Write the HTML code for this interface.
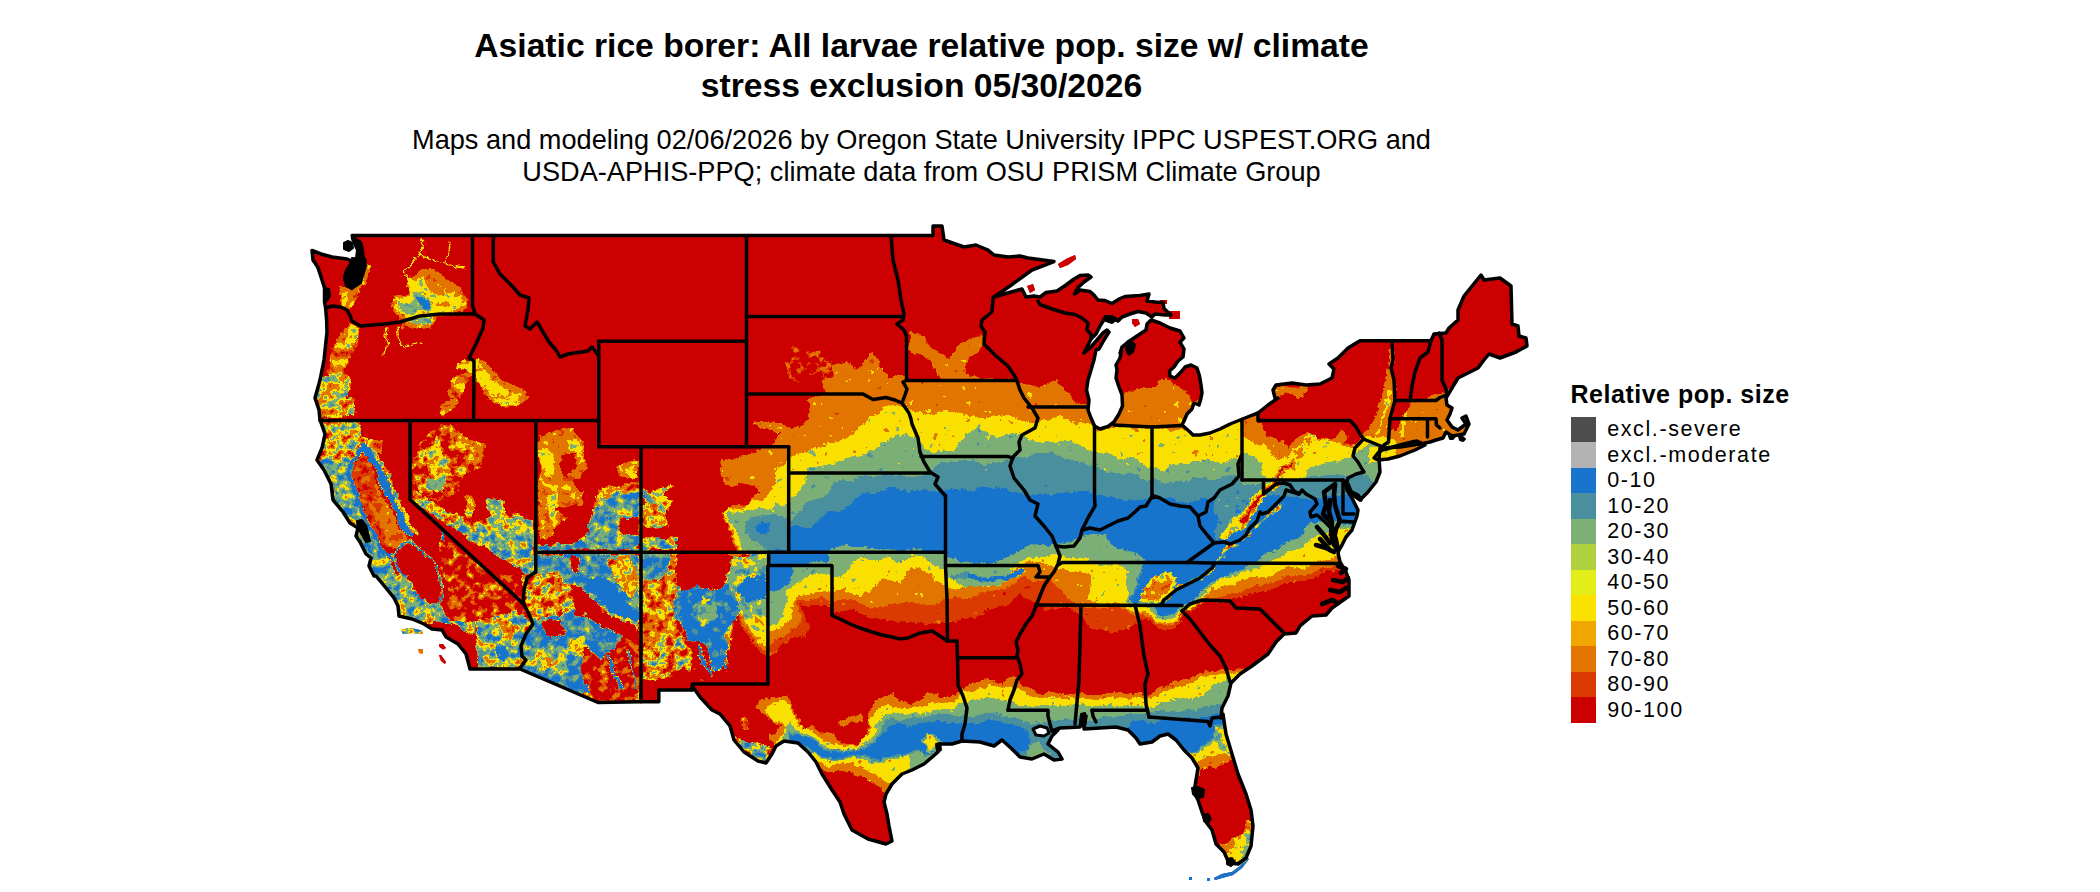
<!DOCTYPE html>
<html><head><meta charset="utf-8"><title>Asiatic rice borer</title>
<style>
html,body{margin:0;padding:0;background:#fff;}
body{width:2100px;height:892px;position:relative;overflow:hidden;font-family:"Liberation Sans",sans-serif;color:#000;}
.title{position:absolute;left:0;width:1843px;top:26px;text-align:center;font-weight:bold;font-size:33.65px;line-height:40px;}
.sub{position:absolute;left:0;width:1843px;top:123.5px;text-align:center;font-size:27.17px;line-height:32.6px;}
.lgt{position:absolute;left:1570.5px;top:379.7px;font-weight:bold;font-size:25px;line-height:28px;white-space:nowrap;letter-spacing:0.52px}
.sw{position:absolute;left:1571px;width:25px;height:25.7px;}
.lt{position:absolute;left:1607.2px;height:25.47px;line-height:25.47px;font-size:21.5px;white-space:nowrap;letter-spacing:1.6px}
</style></head><body>
<div class="title">Asiatic rice borer: All larvae relative pop. size w/ climate<br>stress exclusion 05/30/2026</div>
<div class="sub">Maps and modeling 02/06/2026 by Oregon State University IPPC USPEST.ORG and<br>USDA-APHIS-PPQ; climate data from OSU PRISM Climate Group</div>
<svg width="2100" height="892" viewBox="0 0 2100 892" style="position:absolute;left:0;top:0"><defs><clipPath id="land"><path d="M352.2 235.5L933 235.5L933 226L942 226L944 240L964 247L976 245L988 250L994 255L1008 257L1020 256L1028 258L1054 261.6L1032 270L1010 286L994 297L1004 294L1022 289L1026 297L1034 296L1040 297L1046 292.5L1057 291L1066 285L1074 279L1080 275.5L1088 275L1091 277L1084 282L1078 287.5L1074.5 294L1080 290L1090 291.5L1094 295L1098 300L1105 300.5L1112 303.5L1120 298.5L1125 296.5L1140 295.5L1149 294L1147 301L1155 302L1163 302.5L1164 308.5L1171 315L1165 315L1155 314L1152 317L1146 313L1138 311.5L1130 314L1122 317L1118 321L1114 318L1105 318L1100 326L1096 334L1091 339L1087 347L1084 353L1090 348L1097 340L1103 333L1107 330L1109 332L1104 340L1099 349L1096 350L1094 360L1091 370L1088 380L1086.5 390L1089 400L1088 410L1091 418L1094.5 426L1100 429L1108 426.5L1114 422L1119 414L1122.5 406L1122 395L1119 387L1116 378L1117 370L1116 365L1120 358L1121.5 350L1120 353L1122 347L1128 342L1134 338L1140 334L1146 330L1147 324L1151 320L1160 323L1170 328L1180 331L1184 338L1180 342L1184 349L1183 357L1178 361L1174 367L1169.5 371L1170 376L1175 378L1181 372L1185 367L1191 365L1197 368L1199.5 376L1201 385L1202 393L1200.5 400L1199 405L1194 403L1192 409L1187 414L1184 421L1182 425L1190 432L1193 435L1200 435L1210 433L1220 429L1230 424L1240 420L1250 416L1258 413L1268 405L1278 398L1275 398L1273 390L1276 385L1292 383L1306 385L1320 384L1332 378L1334 369L1329 364L1338 358L1348 348L1360 340.7L1431 340.7L1434 334L1446 333L1449 328L1458 320L1458 310L1464 296L1481 275L1484 280L1500 278L1511 286L1512 324L1518 326L1519 336L1526 338L1527 346L1516 352L1500 358L1489 354L1484 360L1478 368L1464 375L1458 378L1452 388L1446 398L1447 405L1452 408L1450 414L1447 420L1452 427L1458 430L1466 424L1462 418L1466 416L1469 424L1464 434L1452 436L1446 432L1443 438L1436 440L1430 442L1420 444L1400 447L1383 448L1380 448L1379 458L1380 472L1376 482L1368 492L1360 500L1352 494L1348 484L1345 481L1347 490L1352 498L1358 510L1357 516L1352 530L1346 537L1342 545L1339 550L1338 553L1340 562L1346 572L1349 580L1349 596L1332 608L1326 615L1312 616L1300 626L1296 633L1284 634L1276 642L1268 654L1252 666L1240 674L1231 683L1228 696L1222 708L1221 718L1223 714L1226 734L1232 754L1238 774L1246 794L1251 810L1253 826L1251 846L1246 858L1238 864L1229 863L1224 852L1216 844L1212 830L1206 822L1202 812L1198 800L1194 792L1196 780L1198 768L1192 758L1184 750L1176 740L1168 734L1160 736L1152 742L1140 744L1136 738L1128 730L1116 727L1100 728L1084 729L1086 716L1082 716L1080 727L1060 728L1052 731L1058 730L1052 736L1048 744L1058 752L1062 759L1054 760L1044 754L1032 759L1020 757L1012 749L1002 740L994 746L980 742L962 741L952 744L940 744L938 752L924 764L912 770L902 774L892 784L886 794L884 802L887 814L889 826L892 841L886 844L868 839L852 830L844 814L840 802L832 790L822 774L816 762L808 752L798 743L784 741L776 746L772 754L766 763L758 761L744 752L734 740L730 726L720 714L712 710L700 697L692.3 686L692.3 689.9L658.8 689.9L658.8 701.8L641 701.8L598 702.5L520 669L470 669L466 654L458 644L446 637L442 630L432 629L424 624L412 619L399 616L398 606L394 598L386 588L376 576L374 576L369 566L371 558L366 554L360 542L356 536L358 528L350 523L343 512L333 500L331 484L324 470L317 460L322 448L325 434L320 419.6L319 410L315 398L320 380L324 360L327 332L326.6 320L325.6 308L324.5 301.7L324.5 288L322 280L318 267.6L313 260L312 250.5L321 254L332 257L347 259L352 261L365 261L363 257L361 250L360 242L353 240Z"/><path d="M1382 450L1386 449L1400 445L1412 442L1417 441L1421 443L1425 445L1415 450L1400 456L1388 459L1378 460L1374 458L1378 453Z"/><path d="M1058 264L1066 259L1075 255L1076 259L1068 265L1060 268Z"/><path d="M1027 286L1033 284L1035 290L1030 293Z"/><path d="M1132 319L1138 319L1140 324L1135 327L1132 323Z"/><path d="M1160 300L1167 300L1167 304L1160 304Z"/><path d="M1169 311L1180 311L1180 319L1169 319Z"/><path d="M401 630L408 628L416 629L423 631L422 634L412 633L403 634Z"/><path d="M418.5 649L423 649.5L423 653.5L419 653Z"/><path d="M439 644L443 644L446 648L443 649.5L439.5 647Z"/><path d="M439 655L441 655L446 662L445 664L441 661Z"/><path d="M1214 878L1222 874L1232 872L1240 866L1247 858L1249 859L1242 868L1233 875L1222 878L1215 880Z"/><path d="M1189 877L1192 877L1192 880L1189 880Z"/><path d="M1207 878L1210 878L1210 881L1207 881Z"/></clipPath><filter id="f" x="296" y="216" width="1250" height="680" filterUnits="userSpaceOnUse" color-interpolation-filters="sRGB">
<feTurbulence type="fractalNoise" baseFrequency="0.05" numOctaves="2" seed="5" result="d1"/>
<feDisplacementMap in="SourceGraphic" in2="d1" scale="9" xChannelSelector="R" yChannelSelector="G" result="dd1"/>
<feTurbulence type="fractalNoise" baseFrequency="0.22" numOctaves="2" seed="8" result="d2"/>
<feDisplacementMap in="dd1" in2="d2" scale="5" xChannelSelector="R" yChannelSelector="G" result="dd"/>
<feGaussianBlur in="dd" stdDeviation="0.7" result="b"/>
<feTurbulence type="fractalNoise" baseFrequency="0.12" numOctaves="3" seed="11" result="t"/>
<feColorMatrix in="t" type="matrix" values="1 0 0 0 0  1 0 0 0 0  1 0 0 0 0  0 0 0 0 1" result="N"/>
<feColorMatrix in="b" type="matrix" values="0 1 0 0 0  0 1 0 0 0  0 1 0 0 0  0 0 0 0 1" result="A"/>
<feComposite in="A" in2="N" operator="arithmetic" k1="1" k2="-0.5" k3="0" k4="0.5" result="P"/>
<feColorMatrix in="b" type="matrix" values="1 0 0 0 0  1 0 0 0 0  1 0 0 0 0  0 0 0 0 1" result="L"/>
<feComposite in="L" in2="P" operator="arithmetic" k1="0" k2="1" k3="2" k4="-1" result="V"/>
<feComponentTransfer in="V"><feFuncR type="discrete" tableValues="0.800 0.800 0.800 0.800 0.800 0.800 0.800 0.800 0.800 0.800 0.800 0.800 0.800 0.800 0.800 0.859 0.859 0.859 0.890 0.890 0.890 0.890 0.890 0.980 0.980 0.980 0.980 0.980 0.490 0.490 0.490 0.490 0.490 0.290 0.290 0.290 0.290 0.094 0.094 0.094 0.094 0.094 0.094 0.094 0.094 0.094 0.094 0.094 0.094 0.094"/><feFuncG type="discrete" tableValues="0.000 0.000 0.000 0.000 0.000 0.000 0.000 0.000 0.000 0.000 0.000 0.000 0.000 0.000 0.000 0.231 0.231 0.231 0.455 0.455 0.455 0.455 0.455 0.882 0.882 0.882 0.882 0.882 0.690 0.690 0.690 0.690 0.690 0.561 0.561 0.561 0.561 0.455 0.455 0.455 0.455 0.455 0.455 0.455 0.455 0.455 0.455 0.455 0.455 0.455"/><feFuncB type="discrete" tableValues="0.000 0.000 0.000 0.000 0.000 0.000 0.000 0.000 0.000 0.000 0.000 0.000 0.000 0.000 0.000 0.000 0.000 0.000 0.000 0.000 0.000 0.000 0.000 0.000 0.000 0.000 0.000 0.000 0.459 0.459 0.459 0.459 0.459 0.620 0.620 0.620 0.620 0.804 0.804 0.804 0.804 0.804 0.804 0.804 0.804 0.804 0.804 0.804 0.804 0.804"/></feComponentTransfer>
</filter></defs><g clip-path="url(#land)"><rect x="290" y="210" width="1262" height="692" fill="#cc0000"/><path d="M771 446L774 441L776 436L786 430L800 426L808 420L810 406L806 400L816 397L826 393L822 381L810 374L802 373L812 371L830 365L838 362L854 367L855 372L862 367L863 359L871 351L877 359L884 370L890 378L900 376L908 375L909 334L925 336L930 346L940 352L948 358L952 348L966 338L980 336L984 342L980 350L970 358L966 372L980 378L1000 380L1016 382L1030 384L1040 387L1055 379L1070 394L1075 404L1090 406L1110 400L1123 394L1130 390L1140 388L1157 388L1158 381L1163 378.5L1172 380L1176 385L1184 390L1194 399L1210 400L1250 405L1259 418L1259 422L1263 429L1271 438L1284 442L1287 449L1297 436L1310 432L1321 438L1330 439L1339 435L1344 429L1349 434L1344 442L1353 444L1359 441L1364 435L1367 432L1371 424L1377 411L1381 396L1387 379L1388 350L1393 350L1395 380L1394 400L1391 418L1390 428L1400 428L1400 418L1410 401L1425 402L1432 396L1450 390L1480 400L1480 450L1480 568L1355 566L1343 569L1334 571L1320 576L1306 579L1288 584L1270 588L1258 592L1246 595L1232 600L1220 602L1206 602L1195 607L1187 613L1181 621L1169 628L1157 629L1149 622L1139 620L1131 626L1120 632L1106 632L1091 629L1083 615L1063 609L1046 612L1041 605L1034 601L1020 595L1010 603L993 610L977 617L960 620L947 622L927 627L920 622L906 621L891 622L877 619L863 616L849 612L834 612L830 605L820 604L809 606L797 605L806 612L810 625L806 634L791 639L777 648L769 654L767 656L760 650L750 630L739 612L734 600L726 585L726 574L729 559L737 549L733 540L729 531L726 520L720 513L729 510L734 504L746 506L753 497L760 491L757 486L740 483L729 486L723 480L721 469L723 459L737 457L749 454Z" fill="#e37400"/><path d="M769 645L777 640L791 630L800 624L803 615L795 607L797 600L809 599L820 598L831 602L843 599L854 602L869 608L883 609L891 605L911 602L927 607L947 600L967 597L987 593L1007 588L1020 578L1037 582L1049 578L1056 585L1063 595L1069 602L1083 606L1100 606L1120 608L1131 612L1140 613L1149 618L1155 624L1166 626L1178 620L1185 612L1193 604L1206 598L1220 598L1234 593L1254 587L1269 582L1286 577L1306 573L1320 570L1334 566L1355 562L1480 562L1480 568L1355 566L1343 569L1334 571L1320 576L1306 579L1288 584L1270 588L1258 592L1246 595L1232 600L1220 602L1206 602L1195 607L1187 613L1181 621L1169 628L1157 629L1149 622L1139 620L1131 626L1120 632L1106 632L1091 629L1083 615L1063 609L1046 612L1041 605L1034 601L1020 595L1010 603L993 610L977 617L960 620L947 622L927 627L920 622L906 621L891 622L877 619L863 616L849 612L834 612L830 605L820 604L809 606L797 605L806 612L810 625L806 634L791 639L777 648L769 654L767 650Z" fill="#db3b00"/><path d="M786 464L790 457L810 450L833 443L850 437L867 423L880 410L890 405L903 407L913 412L933 415L943 410L967 413L987 418L1000 412L1017 418L1033 423L1047 420L1060 415L1073 422L1087 423L1097 432L1117 428L1133 430L1150 428L1167 427L1183 428L1193 433L1215 428L1240 421L1244 435L1253 442L1259 446L1267 444L1273 452L1276 461L1287 455L1299 446L1310 441L1321 439L1333 442L1344 444L1353 445L1359 442L1367 436L1377 435L1381 438L1400 440L1480 444L1480 558L1355 552L1334 556L1320 560L1306 566L1286 569L1269 574L1254 578L1240 581L1226 586L1213 589L1203 596L1198 604L1187 610L1180 618L1165 624L1154 621L1150 615L1145 612L1132 610L1124 606L1110 604L1097 602L1089 598L1090 589L1089 578L1080 572L1063 569L1053 568L1040 563L1020 564L1000 582L983 585L963 587L947 587L933 580L920 566L909 571L900 582L891 579L880 581L871 588L863 595L851 594L843 589L831 592L812 592L800 594L793 600L790 610L792 620L780 628L769 632L762 640L752 625L742 610L738 598L732 585L732 570L736 558L740 549L735 540L731 531L727 520L722 513L731 507L744 509L751 503L763 500L773 491L774 480L777 469Z" fill="#fae100"/><path d="M769 625L780 622L786 610L786 592L791 588L800 582L806 576L817 574L831 574L840 578L849 571L854 562L863 555L877 561L890 558L897 564L906 559L920 556L933 563L947 570L963 588L983 588L1000 585L1020 561L1037 558L1053 554L1063 556L1083 559L1091 563L1106 564L1120 565L1129 572L1125 582L1127 592L1126 600L1132 606L1145 608L1152 611L1156 618L1165 620L1178 615L1184 608L1197 601L1213 585L1220 579L1234 576L1249 572L1263 564L1271 559L1286 555L1300 549L1311 541L1317 534L1340 530L1360 528L1400 548L1400 558L1355 552L1334 556L1320 560L1306 566L1286 569L1269 574L1254 578L1240 581L1226 586L1213 589L1203 596L1198 604L1187 610L1180 618L1165 624L1154 621L1150 615L1145 612L1132 610L1124 606L1110 604L1097 602L1089 598L1090 589L1089 578L1080 572L1063 569L1053 568L1040 563L1020 564L1000 582L983 585L963 587L947 587L933 580L920 566L909 571L900 582L891 579L880 581L871 588L863 595L851 594L843 589L831 592L812 592L800 594L793 600L790 610L792 620L780 628L769 632L765 632L765 625Z" fill="#e3ed17"/><path d="M790 497L799 493L804 480L806 474L809 467L834 464L850 457L867 452L880 447L893 437L907 433L917 438L923 450L933 452L953 450L963 437L973 430L990 437L1013 433L1023 437L1033 443L1050 443L1067 440L1083 447L1095 450L1107 453L1120 460L1133 457L1143 463L1152 468L1160 472L1173 467L1190 463L1207 460L1223 463L1237 458L1244 455L1253 458L1263 464L1262 474L1275 480L1290 480L1304 478L1310 469L1321 464L1333 461L1344 459L1353 455L1359 449L1367 445L1376 444L1385 446L1480 447L1480 548L1360 528L1340 530L1317 534L1311 541L1300 549L1286 555L1271 559L1263 564L1249 572L1234 576L1220 579L1213 585L1197 601L1184 608L1178 615L1165 620L1156 618L1152 611L1145 608L1132 606L1126 600L1127 592L1125 582L1129 572L1120 565L1106 564L1091 563L1083 559L1063 556L1053 554L1037 558L1020 561L1000 585L983 588L963 588L947 570L933 563L920 556L906 559L897 564L890 558L877 561L863 555L854 562L849 571L840 578L831 574L817 574L806 576L800 582L791 588L786 592L786 610L780 622L769 625L767 625L757 618L749 614L739 602L734 592L737 582L746 574L749 559L744 551L741 546L739 537L733 529L729 521L726 514L737 511L749 511L757 509L769 509L777 504L786 503Z" fill="#7db075"/><path d="M790 521L797 516L806 509L812 500L826 497L831 484L843 480L863 477L877 476L906 476L920 474L930 468L940 463L960 460L980 463L1000 462L1013 458L1027 455L1040 453L1057 455L1073 460L1087 463L1097 468L1110 473L1127 473L1140 477L1153 480L1167 483L1183 480L1200 477L1217 480L1233 473L1247 487L1260 483L1287 480L1307 478L1321 475L1339 474L1350 475L1359 474L1364 475L1367 478L1373 484L1376 490L1480 487L1480 522L1362 517L1345 522L1330 517L1310 520L1300 535L1286 541L1271 546L1260 556L1254 561L1240 568L1226 572L1211 579L1195 595L1181 603L1176 609L1165 613L1158 611L1154 604L1145 601L1134 599L1129 596L1131 589L1137 581L1143 569L1146 559L1143 553L1129 549L1111 543L1106 532L1093 530L1080 534L1067 537L1060 540L1050 543L1034 541L1020 548L1000 557L983 559L967 560L947 554L933 549L906 546L880 545L863 543L843 543L829 546L829 557L810 560L791 563L795 567L791 575L790 583L777 585L769 586L769 588L760 585L752 575L756 560L766 552L757 543L749 540L744 531L746 523L751 517L763 516L771 514L781 514Z" fill="#4a8f9e"/><path d="M790 531L794 526L806 526L820 520L826 514L846 510L849 504L863 494L877 491L891 487L906 490L920 490L933 490L947 492L967 490L983 487L1000 488L1017 493L1033 497L1050 493L1067 492L1080 490L1093 493L1107 497L1123 500L1140 500L1153 497L1167 500L1183 503L1200 500L1213 497L1227 500L1240 505L1255 500L1270 497L1290 495L1310 500L1330 498L1345 495L1358 500L1362 508L1480 508L1480 525L1362 520L1345 525L1330 520L1310 523L1300 538L1286 544L1271 549L1260 559L1254 564L1240 571L1226 575L1211 582L1195 598L1181 606L1176 612L1165 616L1158 614L1154 607L1145 604L1134 602L1129 599L1131 592L1137 584L1143 572L1146 562L1143 556L1129 552L1111 546L1106 535L1093 533L1080 537L1067 540L1060 543L1050 546L1034 544L1020 551L1000 560L983 562L967 563L947 557L933 552L906 549L880 548L863 546L843 546L829 549L829 560L810 563L791 566L795 570L791 578L790 586L777 588L769 589L768 589L768 566L770 554L775 548L788 548Z" fill="#1874cd"/><path d="M757 524L764 521L771 523L770 530L762 533L757 530Z" fill="#1874cd"/><path d="M1274 387L1310 386L1310 392L1299 398L1287 394L1277 399L1273 395Z" fill="#e37400"/><path d="M1388 392L1383 418L1379 436" fill="none" stroke="#fae100" stroke-width="2.5"/><path d="M1406 413L1404 425L1403 437" fill="none" stroke="#fae100" stroke-width="3"/><path d="M1395 401L1410 401L1404 412L1399 418L1391 418Z" fill="#cc0000"/><path d="M1391 421L1399 421L1399 430L1391 431Z" fill="#cc0000"/><path d="M1216 498L1232 492L1250 486L1262 484L1258 500L1250 512L1240 524L1228 536L1216 540L1212 528L1220 518L1214 508Z" fill="#4a8f9e"/><path d="M1312 438L1299 455L1284 469L1273 484L1264 490L1257 501L1249 513L1241 521L1232 530L1226 536" fill="none" stroke="#fae100" stroke-width="10"/><path d="M1312 438L1299 455L1284 469L1273 484L1264 490L1257 501L1249 513L1241 521" fill="none" stroke="#e37400" stroke-width="6"/><path d="M1273 484L1264 490L1257 501L1249 513L1241 521" fill="none" stroke="#cc0000" stroke-width="2.6"/><path d="M1290 463L1282 471L1276 480" fill="none" stroke="#cc0000" stroke-width="2"/><path d="M1165 600L1176 590L1188 584L1200 578L1212 568L1222 556L1235 545" fill="none" stroke="#fae100" stroke-width="3.5"/><path d="M1240 540L1255 528L1270 515L1283 503" fill="none" stroke="#fae100" stroke-width="2.5"/><path d="M1140 592L1149 582L1157 576L1169 572L1177 578L1174 590L1165 602L1150 606L1140 603Z" fill="#fae100"/><path d="M1146 592L1155 582L1166 577L1172 581L1168 592L1160 600L1148 602Z" fill="#e37400"/><path d="M965 577L985 579L1005 577L1022 572" fill="none" stroke="#1874cd" stroke-width="5"/><path d="M955 575L965 577" fill="none" stroke="#4a8f9e" stroke-width="5"/><path d="M756 706L761 699L774 697L784 696L791 703L793 711L799 719L803 727L813 726L821 731L833 733L837 740L846 743L856 744L866 738L870 726L868 716L874 703L880 697L891 694L900 701L911 704L920 700L929 693L940 697L949 697L960 690L966 687L972 682L988 680L1000 682L1008 676L1016 678L1024 684L1032 690L1040 694L1056 694L1072 692L1080 691L1096 694L1112 694L1128 693L1140 692L1150 694L1160 688L1170 684L1180 680L1190 676L1200 672L1210 669L1220 670L1245 668L1250 760L1230 762L1220 764L1210 766L1202 770L1198 776L1188 782L1150 800L950 800L900 796L886 792L879 786L869 780L857 774L849 771L840 769L831 773L823 770L815 772L803 760L795 748L783 746L775 750L769 737L777 731L780 724L773 719L764 714Z" fill="#e37400"/><path d="M837 723L850 716L862 714L864 722L850 722L840 727Z" fill="#e37400"/><path d="M766 709L776 701L784 701L789 709L794 716L800 724L809 729L817 736L826 740L834 744L846 746L857 744L867 737L871 727L869 720L877 711L886 707L896 707L907 710L920 707L931 703L943 703L957 700L960 692L976 688L992 686L1008 685L1020 688L1032 696L1048 699L1064 698L1080 697L1096 699L1112 699L1128 698L1140 697L1150 698L1160 694L1170 690L1180 688L1190 684L1198 678L1208 674L1220 674L1245 672L1250 755L1228 757L1222 756L1214 755L1206 757L1200 762L1194 764L1186 772L1150 795L950 795L900 788L890 783L883 779L871 771L863 767L851 764L840 763L829 766L820 763L812 764L800 752L788 748L778 748L776 741L780 737L784 731L783 724L777 720L769 716Z" fill="#fae100"/><path d="M786 724L791 721L797 727L806 733L814 739L823 744L834 749L846 749L857 747L869 741L876 731L874 724L884 717L894 714L906 716L920 713L934 710L949 709L960 704L972 700L988 698L1004 700L1016 704L1032 707L1048 708L1064 706L1080 705L1096 707L1112 706L1128 706L1140 706L1150 706L1160 704L1172 700L1184 698L1196 700L1206 692L1216 684L1226 682L1245 680L1250 740L1222 730L1220 726L1219 734L1216 742L1206 748L1198 751L1188 754L1180 760L1150 790L950 790L912 776L903 774L906 769L911 760L909 754L900 757L891 760L886 763L874 763L866 760L854 759L831 760L821 759L814 751L806 756L795 746L785 746L784 738L786 731Z" fill="#7db075"/><path d="M790 731L800 732L809 738L820 745L831 749L846 750L860 748L871 743L879 734L880 724L891 719L906 720L920 717L934 714L949 714L960 716L972 716L988 714L1000 714L1012 716L1024 720L1032 724L1045 722L1060 720L1080 718L1100 718L1120 716L1135 714L1150 712L1164 710L1180 712L1192 710L1204 706L1216 704L1245 702L1250 725L1217 724L1216 732L1212 742L1200 748L1192 754L1180 750L1172 760L1150 785L1060 775L1040 740L1030 745L1020 765L950 785L940 752L925 754L917 750L909 753L900 755L889 758L880 762L866 757L851 759L837 760L823 757L811 752L803 748L795 744L790 738Z" fill="#4a8f9e"/><path d="M791 734L800 734L809 740L820 747L831 751L846 752L860 750L871 746L880 737L886 729L897 724L911 726L923 723L937 720L951 723L963 724L976 724L992 722L1008 724L1020 728L1028 732L1032 738L1028 746L1020 752L1015 765L950 780L940 752L925 752L917 748L909 751L900 753L889 756L880 760L866 755L851 757L837 758L823 755L811 750L803 746L797 742L791 738Z" fill="#1874cd"/><path d="M1128 724L1140 720L1152 722L1164 720L1180 719L1192 718L1206 716L1220 714L1245 712L1250 722L1217 722L1216 730L1212 740L1200 746L1192 752L1180 748L1170 755L1150 770L1130 750L1126 735Z" fill="#1874cd"/><path d="M921 740L926 735L934 735L940 740L942 748L934 752L925 750Z" fill="#7db075"/><path d="M923 742L927 737L933 737L936 742L934 748L927 749Z" fill="#e3ed17"/><path d="M1216 846L1228 842L1236 836L1242 830L1247 820L1260 820L1260 875L1215 875Z" fill="#e37400"/><path d="M1226 858L1234 848L1240 840L1246 828L1260 826L1260 875L1226 875Z" fill="#fae100"/><path d="M1240 862L1246 846L1250 832L1260 830L1260 870Z" fill="#7db075"/><path d="M420 270L440 274L458 286L468 300L466 310L440 314L428 328L412 330L400 328L400 316L392 306L396 296L408 294L408 280Z" fill="#e37400"/><path d="M409 280L424 278L428 288L440 296L460 296L464 304L452 310L440 311L428 320L412 324L404 322L406 314L396 308L394 300L404 296L410 288Z" fill="#fae100"/><path d="M411 291L424 292L432 304L428 312L418 310L408 314L400 308L398 302L408 304L412 300Z" fill="#7db075"/><path d="M414 296L424 296L430 306L426 310L420 306Z" fill="#1874cd"/><path d="M408 320L428 318L430 322L412 326Z" fill="#7db075"/><path d="M422 238L420 254L412 260L404 274L412 280" fill="none" stroke="#fae100" stroke-width="1.6"/><path d="M420 254L428 260L440 264L452 266L466 268" fill="none" stroke="#fae100" stroke-width="1.6"/><path d="M450 242L447 264" fill="none" stroke="#fae100" stroke-width="1.6"/><path d="M388 328L386 344L383 356" fill="none" stroke="#fae100" stroke-width="1.6"/><path d="M398 328L400 344L412 346L422 344" fill="none" stroke="#fae100" stroke-width="1.6"/><path d="M366 264L370 272L364 286L354 300L350 308L340 296L344 288L356 280Z" fill="#e37400"/><path d="M348 324L360 328L358 340L350 360L344 376L332 380L326 372L334 348L340 332Z" fill="#e37400"/><path d="M348 326L359 329L356 338L348 348L344 340Z" fill="#fae100"/><path d="M318 376L346 372L352 386L346 398L316 398Z" fill="#fae100"/><path d="M474 358L484 360L500 378L524 392L526 398L488 398L474 380Z" fill="#e37400"/><path d="M474 360L480 364L492 380L508 390L520 396L516 398L492 396L480 386L474 376Z" fill="#fae100"/><path d="M460 360L474 360L474 376L468 374L458 370Z" fill="#fae100"/><path d="M452 376L472 374L460 398L448 398Z" fill="#e37400"/><path d="M488 398L528 398L520 406L500 407Z" fill="#e37400"/><path d="M492 398L520 398L512 403L500 404Z" fill="#fae100"/><path d="M315 398L356 398L354 416L320 418Z" fill="#fae100"/><path d="M440 404L456 398L460 402L444 416L438 414Z" fill="#e37400"/><path d="M320 420L360 420L360 438L380 442L380 450L366 448L356 454L352 466L324 464L318 454L324 438Z" fill="#fae100"/><path d="M368 440L382 440L382 454L368 454Z" fill="#e37400"/><path d="M317 460L324 470L331 484L333 500L343 512L350 523L360 542L366 554L374 576L386 588L394 598L399 616L425 625L420 610L410 598L400 580L390 562L380 545L370 528L362 510L356 495L352 478L350 464Z" fill="#7db075"/><path d="M358 450L364 444L371 449L370 457L360 458Z" fill="#1874cd"/><path d="M372 450L380 462L386 476L393 490L400 505L408 520L416 535" fill="none" stroke="#fae100" stroke-width="3.5"/><path d="M367 450L374 462L380 476L387 490L394 505L402 520L410 535" fill="none" stroke="#1874cd" stroke-width="6.5"/><path d="M360 452L352 464L352 480L357 496L362 512L368 527L376 540L386 552L392 560" fill="none" stroke="#1874cd" stroke-width="3.5"/><path d="M363 454L370 462L374 475L381 489L387 504L393 518L401 532L410 543L401 550L393 548L380 541L370 529L364 515L359 495L354 479L354 462Z" fill="#db3b00"/><path d="M366 500L385 498L393 514L402 529L410 543L401 550L393 547L384 536L373 517Z" fill="#e37400"/><path d="M399 547L410 543L421 549L433 563L439 580L440 597L436 607L427 609L416 600L407 586L400 569L394 554L399 547" fill="none" stroke="#7db075" stroke-width="5"/><path d="M399 547L410 543L421 549L433 563L439 580L440 597L436 607L427 609L416 600L407 586L400 569L394 554L399 547" fill="none" stroke="#1874cd" stroke-width="2.6"/><path d="M399 547L410 543L421 549L433 563L439 580L440 597L436 607L427 609L416 600L407 586L400 569L394 554Z" fill="#cc0000"/><path d="M440 534L443 542L446 552L450 566" fill="none" stroke="#1874cd" stroke-width="2.5"/><path d="M412 456L428 434L440 424L456 428L472 444L486 450L480 466L464 474L460 490L440 502L420 494L412 482Z" fill="#db3b00"/><path d="M424 450L438 436L444 458L452 474L440 482L428 470Z" fill="#fae100"/><path d="M428 478L446 477L448 486L438 492L426 488Z" fill="#7db075"/><path d="M452 430L486 446L480 464L460 458Z" fill="#e37400"/><path d="M412 490L432 501L450 512L477 521L505 515L534 526L536 576L528 576L410 500Z" fill="#fae100"/><path d="M425 505L450 520L477 530L505 526L534 536L536 576L528 576L418 506Z" fill="#7db075"/><path d="M464 496L473 496L473 518L466 518Z" fill="#e37400"/><path d="M486 501L505 500L502 530L490 530Z" fill="#7db075"/><path d="M512 512L534 520L534 540L515 535Z" fill="#fae100"/><path d="M538.6 436.4L554.3 430.7L574.3 428.6L581.4 440.7L582.9 456.4L587.1 467.9L581.4 476.4L574.3 482.1L581.4 490.7L580 503.6L572.9 506.4L561.4 510.7L557.1 523.6L554.3 535L540 537.9L538.6 515Z" fill="#e37400"/><path d="M561.4 456.4L574.3 455L577.1 469.3L568.6 479.3L561.4 472.1Z" fill="#cc0000"/><path d="M538.6 450.7L545.7 447.1L552.9 450.7L554.3 462.1L552.9 472.1L548.6 477.9L542.9 475L540 465Z" fill="#fae100"/><path d="M569.3 443.6L577.1 439.3L581.4 447.9L582.1 457.9L575.7 453.6L570 450.7Z" fill="#fae100"/><path d="M560 491.4L562.1 493.6L554.3 506.4L548.6 515L547.1 509.3L552.9 497.9Z" fill="#fae100"/><path d="M542.9 520.7L554.3 520.7L554.3 529.3L542.9 529.3Z" fill="#fae100"/><path d="M617.1 466.4L624.3 462.1L638.6 459.3L639.3 477.9L630 480.7L622.9 477.9L618.6 472.1Z" fill="#e37400"/><path d="M624.3 469.3L632.9 465L638.6 467.9L638.6 475L628.6 476.4Z" fill="#fae100"/><path d="M595.7 490.7L610 483.6L618.6 486.4L640 482.1L640 542L587.1 542L592.9 515Z" fill="#e37400"/><path d="M604.3 495L618.6 486.4L625.7 495L639.3 486.4L639.3 542L591.4 542L595.7 515Z" fill="#fae100"/><path d="M610 496.4L618.6 490.7L625.7 499.3L638.6 490.7L639.3 506.4L631.4 515L625.7 529.3L618.6 540.7L597.1 540.7L595.7 523.6L597.1 509.3L605.7 502.1Z" fill="#4a8f9e"/><path d="M641.4 486.4L650 490.7L658.6 486.4L671.4 483.6L662.9 495L671.4 502.1L665.7 513.6L654.3 506.4L641.4 497.9Z" fill="#fae100"/><path d="M641.4 487.9L648.6 492.1L655.7 499.3L658.6 506.4L651.4 503.6L641.4 495Z" fill="#4a8f9e"/><path d="M641.4 503.6L651.4 506.4L654.3 523.6L641.4 526.4Z" fill="#fae100"/><path d="M538.6 490L582.9 490L582.9 507.1L568.6 518.6L557.1 527.1L554.3 537.1L538.6 540Z" fill="#e37400"/><path d="M545.7 498.6L560 492.9L555.7 510L548.6 518.6Z" fill="#fae100"/><path d="M591.4 518.6L600 498.6L614.3 495.7L637.1 492.9L638.6 550L537.1 550L537.1 544.3L571.4 544.3L588.6 532.9Z" fill="#4a8f9e"/><path d="M554.3 507.1L590 504.3L591.4 521.4L585.7 537.1L557.1 542.9L555.7 527.1L568.6 518.6Z" fill="#cc0000"/><path d="M620 518.6L638.6 515.7L638.6 537.1L622.9 534.3Z" fill="#cc0000"/><path d="M537.1 553.6L640 553.6L640 617L528.6 617L524.3 598.6L522.9 578.6L534.3 575.7Z" fill="#7db075"/><path d="M568.6 557.1L578.6 555.7L584.3 570L577.1 575.7L570 567.1Z" fill="#cc0000"/><path d="M571.4 590L585.7 588.6L591.4 604.3L584.3 617L575.7 617Z" fill="#cc0000"/><path d="M611.4 557.1L622.9 564.3L628.6 581.4L622.9 590L614.3 578.6L605.7 564.3Z" fill="#e37400"/><path d="M590 575.7L602.9 581.4L617.1 598.6L628.6 612.9L622.9 617L605.7 617L597.1 601.4L588.6 587.1Z" fill="#1874cd"/><path d="M374.3 575L407.1 575L420 596.4L440 605L448.6 622.1L474.3 622.1L474.3 635L440 622.1L421.4 622.1L397.1 617.9L394.3 600.7Z" fill="#7db075"/><path d="M448.6 575L521.4 575L521.4 600.7L531.4 622.1L517.1 635L474.3 622.1L451.4 622.1Z" fill="#cc0000"/><path d="M440 540L455 545L480 565L500 580L520 600L450 600L441 575Z" fill="#cc0000"/><path d="M445.7 600.7L462.9 597.9L468.6 612.1L451.4 616.4L442.9 610.7Z" fill="#db3b00"/><path d="M474.3 622.1L517.1 610.7L531.4 622.1L524.3 639.3L521.4 655L525.7 660.7L517.1 666.4L474.3 669.3L472.9 655L477.1 639.3Z" fill="#7db075"/><path d="M497.1 647.9L508.6 646.4L510.7 655L502.9 660.7L495.7 656.4Z" fill="#1874cd"/><path d="M495.7 616.4L511.4 622.1L517.1 636.4L508.6 640.7L497.1 626.4Z" fill="#e37400"/><path d="M421.4 622.1L440 622.1L460 629.3L474.3 637.9L478.6 655L474.3 669.3L468.6 669.3L460 646.4L445.7 637.9L428.6 629.3Z" fill="#cc0000"/><path d="M524.3 607.9L545.7 603.6L574.3 615L602.9 635L610 660.7L602.9 689.3L582.9 692.1L571.4 702L518.6 667.9L525.7 660.7L521.4 655L524.3 639.3L533.6 623.6Z" fill="#4a8f9e"/><path d="M544.3 617.9L560 616.4L564.3 629.3L557.1 636.4L544.3 633.6Z" fill="#cc0000"/><path d="M568.6 640.7L582.9 639.3L585.7 652.1L572.9 656.4L567.1 649.3Z" fill="#e37400"/><path d="M540 659.3L551.4 659.3L551.4 669.3L541.4 669.3Z" fill="#e37400"/><path d="M522.9 575L574.3 575L574.3 610.7L545.7 603.6L524.3 607.9Z" fill="#fae100"/><path d="M538.6 575L640 575L640 583.6L588.6 583.6L571.4 589.3L545.7 583.6Z" fill="#e37400"/><path d="M577.1 586.4L602.9 576.4L640 583.6L640 632.1L624.3 622.1L602.9 612.1L582.9 600.7Z" fill="#e37400"/><path d="M584.3 585L602.9 578.6L621.4 587.9L640 603.6L640 625L624.3 617.1L607.1 607.1L590 596.4Z" fill="#fae100"/><path d="M588.6 583.6L602.9 580L618.6 589.3L632.9 600.7L640 607.1L640 620.7L624.3 613.6L610 605L594.3 595Z" fill="#7db075"/><path d="M591.4 584.3L602.9 581.4L617.1 590L631.4 601.4L639.3 608.6L639.3 617.1L624.3 611.4L610 602.9L595.7 593.6Z" fill="#1874cd"/><path d="M571.4 592.1L582.9 589.3L602.9 603.6L624.3 617.9L639.3 632.1L639.3 649.3L624.3 642.1L602.9 625L582.9 610.7L574.3 600.7Z" fill="#cc0000"/><path d="M582.9 643.6L602.9 635L640 649.3L640 702L571.4 702L582.9 692.1L602.9 689.3L610 660.7Z" fill="#db3b00"/><path d="M614.3 649.3L617.1 660.7L625.7 675L631.4 689.3" fill="none" stroke="#1874cd" stroke-width="3"/><path d="M641.4 553.6L677.1 553.6L677.1 580.7L674.3 609.3L681.4 630.7L677.1 672L641.4 672Z" fill="#e37400"/><path d="M641.4 553.6L667.1 553.6L662.9 573.6L648.6 582.1L641.4 580.7Z" fill="#7db075"/><path d="M677.1 553.6L728.6 553.6L727.1 573.6L720 586.4L708.6 587.9L700 580.7L688.6 587.9L680 580.7Z" fill="#cc0000"/><path d="M677.1 585L688.6 587.9L700 582.1L708.6 589.3L720 587.9L734.3 592.1L737.1 609.3L731.4 630.7L725.7 645L722.9 672L705.7 672L700 645L688.6 636.4L680 625L674.3 605Z" fill="#1874cd"/><path d="M697.1 602.1L711.4 599.3L720 607.9L720 622.1L708.6 626.4L698.6 619.3Z" fill="#7db075"/><path d="M700 592.1L711.4 592.1L718.6 602.1L708.6 605L700 599.3Z" fill="#fae100"/><path d="M691.4 645L705.7 643.6L708.6 672L691.4 672Z" fill="#cc0000"/><path d="M677.1 636.4L687.1 639.3L688.6 672L677.1 672Z" fill="#cc0000"/><path d="M728.6 553.6L767.1 553.6L767.1 613.6L748.6 613.6L738.6 602.1L734.3 592.1L725.7 576.4Z" fill="#fae100"/><path d="M748.6 573.6L766.4 573.6L766.4 587.9L757.1 589.3L748.6 583.6Z" fill="#1874cd"/><path d="M737.1 553.6L748.6 553.6L748.6 570.7L738.6 573.6Z" fill="#fae100"/><path d="M737.1 612.1L748.6 613.6L767.1 625L767.1 643.6L757.1 645L745.7 630.7L737.1 622.1Z" fill="#fae100"/><path d="M742.9 630.7L757.1 645L767.1 643.6L767.1 655L761.4 657.9L748.6 645L740 633.6Z" fill="#e37400"/><path d="M740 633.6L748.6 645L761.4 657.9L767.1 655L767.1 660.7L760 662.1L745.7 647.9L738.6 636.4Z" fill="#db3b00"/><path d="M738.6 613.6L745.7 647.9L760 662.1L767.1 660.7L767.1 672L728.6 672L728.6 636.4Z" fill="#cc0000"/><path d="M725.7 630.7L734.3 625L738.6 636.4L732.9 672L725.7 672Z" fill="#fae100"/><path d="M641.4 502.9L667.1 502.9L668.6 525.7L648.6 528.6L641.4 525.7Z" fill="#fae100"/><path d="M641.4 537.1L677.1 538.6L677.1 550.7L641.4 550.7Z" fill="#7db075"/><path d="M728.6 550.7L748.6 550.7L748.6 567L728.6 567Z" fill="#e37400"/><path d="M732.9 737.1L747.1 740L761.4 745.7L771.4 748.6L768.6 760L761.4 762.9L747.1 752.9L735.7 745.7Z" fill="#fae100"/><path d="M741.4 717.1L748.6 715.7L750 727.1L742.9 728.6Z" fill="#e37400"/><path d="M1395 440L1430 438L1430 452L1395 460Z" fill="#e37400"/><path d="M1370 447L1398 446L1396 462L1370 462Z" fill="#fae100"/><path d="M399 626L425 626L425 636L399 636Z" fill="#7db075"/><path d="M417 648L424 648L424 655L417 655Z" fill="#e37400"/><path d="M1185 855L1252 855L1252 884L1185 884Z" fill="#1874cd"/><path d="M1216 846L1228 842L1236 836L1242 830L1247 820L1260 820L1250 850L1240 864L1225 866L1215 860Z" fill="#e37400"/><path d="M1226 858L1234 848L1240 840L1246 828L1260 826L1252 850L1242 864L1230 866Z" fill="#fae100"/><path d="M1240 862L1246 846L1250 832L1260 830L1252 852L1244 864Z" fill="#7db075"/><path d="M909 350L920 353L930 363L938 375L940 381L907 381Z" fill="#cc0000"/><path d="M340 287L352 290L358 296L354 306L346 309L340 300Z" fill="#e37400"/><path d="M363 264L372 264L370 276L364 286L360 283Z" fill="#e37400"/><path d="M536 553L600 553L640 553L640 566L600 572L560 575L536 572Z" fill="#fae100"/><path d="M750 423L765 421L785 424L790 432L775 432L760 428Z" fill="#e37400"/><path d="M786 348L830 352L832 378L800 385L786 378Z" fill="#cc0000"/><path d="M641 553L662 553L664 570L655 580L641 578Z" fill="#4a8f9e"/><path d="M536.5 554L638.7 554L638.7 620.3L622.6 616.7L595.7 604.2L574.2 586.2L559.8 580.9L536.5 573.7Z" fill="#4a8f9e"/><path d="M524 575.5L559.8 571.9L565.2 598.8L559.8 623.9L532.9 625.7L525.8 604.2Z" fill="#e37400"/><path d="M604.7 557.6L631.6 555.8L638.7 580.9L633.3 598.8L622.6 589.8L611.8 577.3Z" fill="#e37400"/><path d="M608.2 562.9L622.6 561.1L629.8 580.9L622.6 584.4L613.6 575.5Z" fill="#fae100"/><path d="M568.8 555.8L579.6 557.6L577.8 575.5L570.6 571.9Z" fill="#cc0000"/><path d="M574.2 585.3L595.7 605.1L622.6 619.4L638.7 623.9" fill="none" stroke="#fae100" stroke-width="4"/><path d="M586.7 579.1L599.3 575.5L615.4 589.8L629.8 604.2L638.7 613.1L638.7 622.1L622.6 616.7L604.7 604.2L590.3 591.6Z" fill="#1874cd"/><path d="M570.6 585.3L579.6 587.1L592.1 599.7L608.2 614L624.4 623L638.7 626.6L638.7 645.4L629.8 641.8L622.6 631.1L604.7 623.9L590.3 616.7L577.8 604.2L570.6 595.2Z" fill="#cc0000"/><path d="M532.9 620.3L568.8 613.1L590.3 620.3L608.2 629.3L622.6 638.2L615.4 652.6L601.1 659.8L597.5 674.1L583.1 681.3L574.2 688.4L520.4 668.7L525.8 652.6L522.2 638.2Z" fill="#1874cd"/><path d="M524 645.4L568.8 645.4L568.8 670.5L550.9 674.1L524 666.9Z" fill="#7db075"/><path d="M543.7 622.1L559.8 620.3L563.4 632.9L550.9 638.2L541.9 631.1Z" fill="#cc0000"/><path d="M570.6 638.2L583.1 636.4L588.5 645.4L583.1 654.4L572.4 654.4L567 647.2Z" fill="#fae100"/><path d="M574.2 642.7L581.3 641.8L584 646.3L580.4 650.8L575.1 649.9Z" fill="#e37400"/><path d="M540.1 658L550.9 657.1L551.8 666.9L541.9 668.7Z" fill="#e37400"/><path d="M583.1 645.4L601.1 659.8L622.6 638.2L638.7 645.4L638.7 699.2L595.7 699.2L583.1 684.9Z" fill="#cc0000"/><path d="M608.2 656.2L615.4 674.1L622.6 688.4" fill="none" stroke="#1874cd" stroke-width="2.5"/><path d="M626.2 652.6L631.6 670.5L635.1 688.4" fill="none" stroke="#1874cd" stroke-width="2.2"/><path d="M643.2 554L667.4 554L669.2 571.9L658.4 580.9L643.2 579.1Z" fill="#4a8f9e"/><path d="M643.2 579.1L658.4 580.9L669.2 571.9L676.4 589.8L672.8 616.7L676.4 634.7L667.4 645.4L643.2 645.4Z" fill="#e37400"/><path d="M676.4 554L730.2 554L728.4 580.9L712.2 589.8L694.3 586.2L680 589.8Z" fill="#cc0000"/><path d="M739.1 554L753.5 554L751.7 566.5L740.9 564.7Z" fill="#cc0000"/><path d="M730.2 555.8L766 555.8L766 598.8L739.1 604.2L728.4 582.7Z" fill="#7db075"/><path d="M744.5 577.3L766 575.5L766 598.8L748.1 602.4L737.3 591.6Z" fill="#1874cd"/><path d="M676.4 589.8L694.3 586.2L712.2 591.6L728.4 582.7L739.1 604.2L735.5 620.3L724.8 634.7L726.6 652.6L721.2 670.5L710.4 670.5L705.1 645.4L687.1 638.2L676.4 620.3L672.8 604.2Z" fill="#1874cd"/><path d="M697.9 604.2L715.8 604.2L717.6 620.3L703.3 625.7L696.1 616.7Z" fill="#7db075"/><path d="M701.5 595.2L712.2 598.8L706.9 606Z" fill="#fae100"/><path d="M643.2 645.4L667.4 645.4L676.4 634.7L687.1 638.2L694.3 652.6L690.7 670.5L676.4 670.5L658.4 681.3L643.2 681.3Z" fill="#e37400"/><path d="M687.1 638.2L705.1 645.4L710.4 670.5L721.2 670.5L726.6 681.3L658.4 681.3L676.4 670.5L690.7 670.5L694.3 652.6Z" fill="#cc0000"/><path d="M697.9 645.4L701.5 661.6L708.7 674.1" fill="none" stroke="#1874cd" stroke-width="2.5"/><path d="M717.6 638.2L719.4 656.2L730.2 677.7" fill="none" stroke="#1874cd" stroke-width="2.5"/><path d="M739.1 616.7L766 614.9L766 645.4L753.5 641.8L740.9 629.3Z" fill="#fae100"/><path d="M735.5 604.2L766 598.8L766 615.8L739.1 617.6Z" fill="#7db075"/><path d="M739.1 615.8L753.5 642.7L766 653.5L766 681.3L726.6 681.3L728.4 645.4Z" fill="#cc0000"/><path d="M740 615.8L754.4 641.8L766.9 653.5" fill="none" stroke="#e37400" stroke-width="5"/><path d="M738.8 616.7L752.6 643.3L765.7 655.3" fill="none" stroke="#db3b00" stroke-width="3"/><path d="M537 547L566 548L593 544L620 548L640 549" fill="none" stroke="#1874cd" stroke-width="4"/><path d="M1216 724L1226 724L1233 754L1222 756L1215 740Z" fill="#7db075"/><path d="M1220 726L1227 726L1233 752L1226 753L1220 740Z" fill="#fae100"/></g><g clip-path="url(#land)"><g filter="url(#f)"><rect x="290" y="210" width="1262" height="692" fill="rgb(51,20,0)"/><path d="M771 446L774 441L776 436L786 430L800 426L808 420L810 406L806 400L816 397L826 393L822 381L810 374L802 373L812 371L830 365L838 362L854 367L855 372L862 367L863 359L871 351L877 359L884 370L890 378L900 376L908 375L909 334L925 336L930 346L940 352L948 358L952 348L966 338L980 336L984 342L980 350L970 358L966 372L980 378L1000 380L1016 382L1030 384L1040 387L1055 379L1070 394L1075 404L1090 406L1110 400L1123 394L1130 390L1140 388L1157 388L1158 381L1163 378.5L1172 380L1176 385L1184 390L1194 399L1210 400L1250 405L1259 418L1259 422L1263 429L1271 438L1284 442L1287 449L1297 436L1310 432L1321 438L1330 439L1339 435L1344 429L1349 434L1344 442L1353 444L1359 441L1364 435L1367 432L1371 424L1377 411L1381 396L1387 379L1388 350L1393 350L1395 380L1394 400L1391 418L1390 428L1400 428L1400 418L1410 401L1425 402L1432 396L1450 390L1480 400L1480 450L1480 568L1355 566L1343 569L1334 571L1320 576L1306 579L1288 584L1270 588L1258 592L1246 595L1232 600L1220 602L1206 602L1195 607L1187 613L1181 621L1169 628L1157 629L1149 622L1139 620L1131 626L1120 632L1106 632L1091 629L1083 615L1063 609L1046 612L1041 605L1034 601L1020 595L1010 603L993 610L977 617L960 620L947 622L927 627L920 622L906 621L891 622L877 619L863 616L849 612L834 612L830 605L820 604L809 606L797 605L806 612L810 625L806 634L791 639L777 648L769 654L767 656L760 650L750 630L739 612L734 600L726 585L726 574L729 559L737 549L733 540L729 531L726 520L720 513L729 510L734 504L746 506L753 497L760 491L757 486L740 483L729 486L723 480L721 469L723 459L737 457L749 454Z" fill="rgb(105,22,0)"/><path d="M769 645L777 640L791 630L800 624L803 615L795 607L797 600L809 599L820 598L831 602L843 599L854 602L869 608L883 609L891 605L911 602L927 607L947 600L967 597L987 593L1007 588L1020 578L1037 582L1049 578L1056 585L1063 595L1069 602L1083 606L1100 606L1120 608L1131 612L1140 613L1149 618L1155 624L1166 626L1178 620L1185 612L1193 604L1206 598L1220 598L1234 593L1254 587L1269 582L1286 577L1306 573L1320 570L1334 566L1355 562L1480 562L1480 568L1355 566L1343 569L1334 571L1320 576L1306 579L1288 584L1270 588L1258 592L1246 595L1232 600L1220 602L1206 602L1195 607L1187 613L1181 621L1169 628L1157 629L1149 622L1139 620L1131 626L1120 632L1106 632L1091 629L1083 615L1063 609L1046 612L1041 605L1034 601L1020 595L1010 603L993 610L977 617L960 620L947 622L927 627L920 622L906 621L891 622L877 619L863 616L849 612L834 612L830 605L820 604L809 606L797 605L806 612L810 625L806 634L791 639L777 648L769 654L767 650Z" fill="rgb(84,15,0)"/><path d="M786 464L790 457L810 450L833 443L850 437L867 423L880 410L890 405L903 407L913 412L933 415L943 410L967 413L987 418L1000 412L1017 418L1033 423L1047 420L1060 415L1073 422L1087 423L1097 432L1117 428L1133 430L1150 428L1167 427L1183 428L1193 433L1215 428L1240 421L1244 435L1253 442L1259 446L1267 444L1273 452L1276 461L1287 455L1299 446L1310 441L1321 439L1333 442L1344 444L1353 445L1359 442L1367 436L1377 435L1381 438L1400 440L1480 444L1480 558L1355 552L1334 556L1320 560L1306 566L1286 569L1269 574L1254 578L1240 581L1226 586L1213 589L1203 596L1198 604L1187 610L1180 618L1165 624L1154 621L1150 615L1145 612L1132 610L1124 606L1110 604L1097 602L1089 598L1090 589L1089 578L1080 572L1063 569L1053 568L1040 563L1020 564L1000 582L983 585L963 587L947 587L933 580L920 566L909 571L900 582L891 579L880 581L871 588L863 595L851 594L843 589L831 592L812 592L800 594L793 600L790 610L792 620L780 628L769 632L762 640L752 625L742 610L738 598L732 585L732 570L736 558L740 549L735 540L731 531L727 520L722 513L731 507L744 509L751 503L763 500L773 491L774 480L777 469Z" fill="rgb(130,22,0)"/><path d="M769 625L780 622L786 610L786 592L791 588L800 582L806 576L817 574L831 574L840 578L849 571L854 562L863 555L877 561L890 558L897 564L906 559L920 556L933 563L947 570L963 588L983 588L1000 585L1020 561L1037 558L1053 554L1063 556L1083 559L1091 563L1106 564L1120 565L1129 572L1125 582L1127 592L1126 600L1132 606L1145 608L1152 611L1156 618L1165 620L1178 615L1184 608L1197 601L1213 585L1220 579L1234 576L1249 572L1263 564L1271 559L1286 555L1300 549L1311 541L1317 534L1340 530L1360 528L1400 548L1400 558L1355 552L1334 556L1320 560L1306 566L1286 569L1269 574L1254 578L1240 581L1226 586L1213 589L1203 596L1198 604L1187 610L1180 618L1165 624L1154 621L1150 615L1145 612L1132 610L1124 606L1110 604L1097 602L1089 598L1090 589L1089 578L1080 572L1063 569L1053 568L1040 563L1020 564L1000 582L983 585L963 587L947 587L933 580L920 566L909 571L900 582L891 579L880 581L871 588L863 595L851 594L843 589L831 592L812 592L800 594L793 600L790 610L792 620L780 628L769 632L765 632L765 625Z" fill="rgb(130,22,0)"/><path d="M790 497L799 493L804 480L806 474L809 467L834 464L850 457L867 452L880 447L893 437L907 433L917 438L923 450L933 452L953 450L963 437L973 430L990 437L1013 433L1023 437L1033 443L1050 443L1067 440L1083 447L1095 450L1107 453L1120 460L1133 457L1143 463L1152 468L1160 472L1173 467L1190 463L1207 460L1223 463L1237 458L1244 455L1253 458L1263 464L1262 474L1275 480L1290 480L1304 478L1310 469L1321 464L1333 461L1344 459L1353 455L1359 449L1367 445L1376 444L1385 446L1480 447L1480 548L1360 528L1340 530L1317 534L1311 541L1300 549L1286 555L1271 559L1263 564L1249 572L1234 576L1220 579L1213 585L1197 601L1184 608L1178 615L1165 620L1156 618L1152 611L1145 608L1132 606L1126 600L1127 592L1125 582L1129 572L1120 565L1106 564L1091 563L1083 559L1063 556L1053 554L1037 558L1020 561L1000 585L983 588L963 588L947 570L933 563L920 556L906 559L897 564L890 558L877 561L863 555L854 562L849 571L840 578L831 574L817 574L806 576L800 582L791 588L786 592L786 610L780 622L769 625L767 625L757 618L749 614L739 602L734 592L737 582L746 574L749 559L744 551L741 546L739 537L733 529L729 521L726 514L737 511L749 511L757 509L769 509L777 504L786 503Z" fill="rgb(156,22,0)"/><path d="M790 521L797 516L806 509L812 500L826 497L831 484L843 480L863 477L877 476L906 476L920 474L930 468L940 463L960 460L980 463L1000 462L1013 458L1027 455L1040 453L1057 455L1073 460L1087 463L1097 468L1110 473L1127 473L1140 477L1153 480L1167 483L1183 480L1200 477L1217 480L1233 473L1247 487L1260 483L1287 480L1307 478L1321 475L1339 474L1350 475L1359 474L1364 475L1367 478L1373 484L1376 490L1480 487L1480 522L1362 517L1345 522L1330 517L1310 520L1300 535L1286 541L1271 546L1260 556L1254 561L1240 568L1226 572L1211 579L1195 595L1181 603L1176 609L1165 613L1158 611L1154 604L1145 601L1134 599L1129 596L1131 589L1137 581L1143 569L1146 559L1143 553L1129 549L1111 543L1106 532L1093 530L1080 534L1067 537L1060 540L1050 543L1034 541L1020 548L1000 557L983 559L967 560L947 554L933 549L906 546L880 545L863 543L843 543L829 546L829 557L810 560L791 563L795 567L791 575L790 583L777 585L769 586L769 588L760 585L752 575L756 560L766 552L757 543L749 540L744 531L746 523L751 517L763 516L771 514L781 514Z" fill="rgb(178,13,0)"/><path d="M790 531L794 526L806 526L820 520L826 514L846 510L849 504L863 494L877 491L891 487L906 490L920 490L933 490L947 492L967 490L983 487L1000 488L1017 493L1033 497L1050 493L1067 492L1080 490L1093 493L1107 497L1123 500L1140 500L1153 497L1167 500L1183 503L1200 500L1213 497L1227 500L1240 505L1255 500L1270 497L1290 495L1310 500L1330 498L1345 495L1358 500L1362 508L1480 508L1480 525L1362 520L1345 525L1330 520L1310 523L1300 538L1286 544L1271 549L1260 559L1254 564L1240 571L1226 575L1211 582L1195 598L1181 606L1176 612L1165 616L1158 614L1154 607L1145 604L1134 602L1129 599L1131 592L1137 584L1143 572L1146 562L1143 556L1129 552L1111 546L1106 535L1093 533L1080 537L1067 540L1060 543L1050 546L1034 544L1020 551L1000 560L983 562L967 563L947 557L933 552L906 549L880 548L863 546L843 546L829 549L829 560L810 563L791 566L795 570L791 578L790 586L777 588L769 589L768 589L768 566L770 554L775 548L788 548Z" fill="rgb(214,22,0)"/><path d="M757 524L764 521L771 523L770 530L762 533L757 530Z" fill="rgb(214,22,0)"/><path d="M1274 387L1310 386L1310 392L1299 398L1287 394L1277 399L1273 395Z" fill="rgb(105,26,0)"/><path d="M1388 392L1383 418L1379 436" fill="none" stroke="rgb(130,26,0)" stroke-width="2.5" stroke-linecap="round" stroke-linejoin="round"/><path d="M1406 413L1404 425L1403 437" fill="none" stroke="rgb(130,26,0)" stroke-width="3" stroke-linecap="round" stroke-linejoin="round"/><path d="M1395 401L1410 401L1404 412L1399 418L1391 418Z" fill="rgb(51,26,0)"/><path d="M1391 421L1399 421L1399 430L1391 431Z" fill="rgb(51,26,0)"/><path d="M1216 498L1232 492L1250 486L1262 484L1258 500L1250 512L1240 524L1228 536L1216 540L1212 528L1220 518L1214 508Z" fill="rgb(178,23,0)"/><path d="M1312 438L1299 455L1284 469L1273 484L1264 490L1257 501L1249 513L1241 521L1232 530L1226 536" fill="none" stroke="rgb(130,38,0)" stroke-width="10" stroke-linecap="round" stroke-linejoin="round"/><path d="M1312 438L1299 455L1284 469L1273 484L1264 490L1257 501L1249 513L1241 521" fill="none" stroke="rgb(105,38,0)" stroke-width="6" stroke-linecap="round" stroke-linejoin="round"/><path d="M1273 484L1264 490L1257 501L1249 513L1241 521" fill="none" stroke="rgb(51,31,0)" stroke-width="2.6" stroke-linecap="round" stroke-linejoin="round"/><path d="M1290 463L1282 471L1276 480" fill="none" stroke="rgb(51,31,0)" stroke-width="2" stroke-linecap="round" stroke-linejoin="round"/><path d="M1165 600L1176 590L1188 584L1200 578L1212 568L1222 556L1235 545" fill="none" stroke="rgb(128,128,0)" stroke-width="3.5" stroke-linecap="round" stroke-linejoin="round"/><path d="M1240 540L1255 528L1270 515L1283 503" fill="none" stroke="rgb(140,102,0)" stroke-width="2.5" stroke-linecap="round" stroke-linejoin="round"/><path d="M1140 592L1149 582L1157 576L1169 572L1177 578L1174 590L1165 602L1150 606L1140 603Z" fill="rgb(130,31,0)"/><path d="M1146 592L1155 582L1166 577L1172 581L1168 592L1160 600L1148 602Z" fill="rgb(105,38,0)"/><path d="M965 577L985 579L1005 577L1022 572" fill="none" stroke="rgb(214,31,0)" stroke-width="5" stroke-linecap="round" stroke-linejoin="round"/><path d="M955 575L965 577" fill="none" stroke="rgb(178,31,0)" stroke-width="5" stroke-linecap="round" stroke-linejoin="round"/><path d="M756 706L761 699L774 697L784 696L791 703L793 711L799 719L803 727L813 726L821 731L833 733L837 740L846 743L856 744L866 738L870 726L868 716L874 703L880 697L891 694L900 701L911 704L920 700L929 693L940 697L949 697L960 690L966 687L972 682L988 680L1000 682L1008 676L1016 678L1024 684L1032 690L1040 694L1056 694L1072 692L1080 691L1096 694L1112 694L1128 693L1140 692L1150 694L1160 688L1170 684L1180 680L1190 676L1200 672L1210 669L1220 670L1245 668L1250 760L1230 762L1220 764L1210 766L1202 770L1198 776L1188 782L1150 800L950 800L900 796L886 792L879 786L869 780L857 774L849 771L840 769L831 773L823 770L815 772L803 760L795 748L783 746L775 750L769 737L777 731L780 724L773 719L764 714Z" fill="rgb(105,22,0)"/><path d="M837 723L850 716L862 714L864 722L850 722L840 727Z" fill="rgb(105,22,0)"/><path d="M766 709L776 701L784 701L789 709L794 716L800 724L809 729L817 736L826 740L834 744L846 746L857 744L867 737L871 727L869 720L877 711L886 707L896 707L907 710L920 707L931 703L943 703L957 700L960 692L976 688L992 686L1008 685L1020 688L1032 696L1048 699L1064 698L1080 697L1096 699L1112 699L1128 698L1140 697L1150 698L1160 694L1170 690L1180 688L1190 684L1198 678L1208 674L1220 674L1245 672L1250 755L1228 757L1222 756L1214 755L1206 757L1200 762L1194 764L1186 772L1150 795L950 795L900 788L890 783L883 779L871 771L863 767L851 764L840 763L829 766L820 763L812 764L800 752L788 748L778 748L776 741L780 737L784 731L783 724L777 720L769 716Z" fill="rgb(130,22,0)"/><path d="M786 724L791 721L797 727L806 733L814 739L823 744L834 749L846 749L857 747L869 741L876 731L874 724L884 717L894 714L906 716L920 713L934 710L949 709L960 704L972 700L988 698L1004 700L1016 704L1032 707L1048 708L1064 706L1080 705L1096 707L1112 706L1128 706L1140 706L1150 706L1160 704L1172 700L1184 698L1196 700L1206 692L1216 684L1226 682L1245 680L1250 740L1222 730L1220 726L1219 734L1216 742L1206 748L1198 751L1188 754L1180 760L1150 790L950 790L912 776L903 774L906 769L911 760L909 754L900 757L891 760L886 763L874 763L866 760L854 759L831 760L821 759L814 751L806 756L795 746L785 746L784 738L786 731Z" fill="rgb(156,22,0)"/><path d="M790 731L800 732L809 738L820 745L831 749L846 750L860 748L871 743L879 734L880 724L891 719L906 720L920 717L934 714L949 714L960 716L972 716L988 714L1000 714L1012 716L1024 720L1032 724L1045 722L1060 720L1080 718L1100 718L1120 716L1135 714L1150 712L1164 710L1180 712L1192 710L1204 706L1216 704L1245 702L1250 725L1217 724L1216 732L1212 742L1200 748L1192 754L1180 750L1172 760L1150 785L1060 775L1040 740L1030 745L1020 765L950 785L940 752L925 754L917 750L909 753L900 755L889 758L880 762L866 757L851 759L837 760L823 757L811 752L803 748L795 744L790 738Z" fill="rgb(178,13,0)"/><path d="M791 734L800 734L809 740L820 747L831 751L846 752L860 750L871 746L880 737L886 729L897 724L911 726L923 723L937 720L951 723L963 724L976 724L992 722L1008 724L1020 728L1028 732L1032 738L1028 746L1020 752L1015 765L950 780L940 752L925 752L917 748L909 751L900 753L889 756L880 760L866 755L851 757L837 758L823 755L811 750L803 746L797 742L791 738Z" fill="rgb(214,22,0)"/><path d="M1128 724L1140 720L1152 722L1164 720L1180 719L1192 718L1206 716L1220 714L1245 712L1250 722L1217 722L1216 730L1212 740L1200 746L1192 752L1180 748L1170 755L1150 770L1130 750L1126 735Z" fill="rgb(214,22,0)"/><path d="M921 740L926 735L934 735L940 740L942 748L934 752L925 750Z" fill="rgb(156,22,0)"/><path d="M923 742L927 737L933 737L936 742L934 748L927 749Z" fill="rgb(130,22,0)"/><path d="M1216 846L1228 842L1236 836L1242 830L1247 820L1260 820L1260 875L1215 875Z" fill="rgb(105,22,0)"/><path d="M1226 858L1234 848L1240 840L1246 828L1260 826L1260 875L1226 875Z" fill="rgb(130,22,0)"/><path d="M1240 862L1246 846L1250 832L1260 830L1260 870Z" fill="rgb(156,22,0)"/><path d="M420 270L440 274L458 286L468 300L466 310L440 314L428 328L412 330L400 328L400 316L392 306L396 296L408 294L408 280Z" fill="rgb(105,38,0)"/><path d="M409 280L424 278L428 288L440 296L460 296L464 304L452 310L440 311L428 320L412 324L404 322L406 314L396 308L394 300L404 296L410 288Z" fill="rgb(130,31,0)"/><path d="M411 291L424 292L432 304L428 312L418 310L408 314L400 308L398 302L408 304L412 300Z" fill="rgb(156,31,0)"/><path d="M414 296L424 296L430 306L426 310L420 306Z" fill="rgb(214,31,0)"/><path d="M408 320L428 318L430 322L412 326Z" fill="rgb(156,31,0)"/><path d="M422 238L420 254L412 260L404 274L412 280" fill="none" stroke="rgb(130,26,0)" stroke-width="1.6" stroke-linecap="round" stroke-linejoin="round"/><path d="M420 254L428 260L440 264L452 266L466 268" fill="none" stroke="rgb(130,26,0)" stroke-width="1.6" stroke-linecap="round" stroke-linejoin="round"/><path d="M450 242L447 264" fill="none" stroke="rgb(130,26,0)" stroke-width="1.6" stroke-linecap="round" stroke-linejoin="round"/><path d="M388 328L386 344L383 356" fill="none" stroke="rgb(130,26,0)" stroke-width="1.6" stroke-linecap="round" stroke-linejoin="round"/><path d="M398 328L400 344L412 346L422 344" fill="none" stroke="rgb(130,26,0)" stroke-width="1.6" stroke-linecap="round" stroke-linejoin="round"/><path d="M366 264L370 272L364 286L354 300L350 308L340 296L344 288L356 280Z" fill="rgb(105,51,0)"/><path d="M348 324L360 328L358 340L350 360L344 376L332 380L326 372L334 348L340 332Z" fill="rgb(105,51,0)"/><path d="M348 326L359 329L356 338L348 348L344 340Z" fill="rgb(130,38,0)"/><path d="M318 376L346 372L352 386L346 398L316 398Z" fill="rgb(128,89,0)"/><path d="M474 358L484 360L500 378L524 392L526 398L488 398L474 380Z" fill="rgb(105,38,0)"/><path d="M474 360L480 364L492 380L508 390L520 396L516 398L492 396L480 386L474 376Z" fill="rgb(130,31,0)"/><path d="M460 360L474 360L474 376L468 374L458 370Z" fill="rgb(130,38,0)"/><path d="M452 376L472 374L460 398L448 398Z" fill="rgb(105,51,0)"/><path d="M488 398L528 398L520 406L500 407Z" fill="rgb(105,38,0)"/><path d="M492 398L520 398L512 403L500 404Z" fill="rgb(130,31,0)"/><path d="M315 398L356 398L354 416L320 418Z" fill="rgb(128,89,0)"/><path d="M440 404L456 398L460 402L444 416L438 414Z" fill="rgb(105,51,0)"/><path d="M320 420L360 420L360 438L380 442L380 450L366 448L356 454L352 466L324 464L318 454L324 438Z" fill="rgb(128,115,0)"/><path d="M368 440L382 440L382 454L368 454Z" fill="rgb(105,51,0)"/><path d="M317 460L324 470L331 484L333 500L343 512L350 523L360 542L366 554L374 576L386 588L394 598L399 616L425 625L420 610L410 598L400 580L390 562L380 545L370 528L362 510L356 495L352 478L350 464Z" fill="rgb(163,97,0)"/><path d="M358 450L364 444L371 449L370 457L360 458Z" fill="rgb(214,51,0)"/><path d="M372 450L380 462L386 476L393 490L400 505L408 520L416 535" fill="none" stroke="rgb(133,76,0)" stroke-width="3.5" stroke-linecap="round" stroke-linejoin="round"/><path d="M367 450L374 462L380 476L387 490L394 505L402 520L410 535" fill="none" stroke="rgb(214,46,0)" stroke-width="6.5" stroke-linecap="round" stroke-linejoin="round"/><path d="M360 452L352 464L352 480L357 496L362 512L368 527L376 540L386 552L392 560" fill="none" stroke="rgb(214,46,0)" stroke-width="3.5" stroke-linecap="round" stroke-linejoin="round"/><path d="M363 454L370 462L374 475L381 489L387 504L393 518L401 532L410 543L401 550L393 548L380 541L370 529L364 515L359 495L354 479L354 462Z" fill="rgb(84,41,0)"/><path d="M366 500L385 498L393 514L402 529L410 543L401 550L393 547L384 536L373 517Z" fill="rgb(98,36,0)"/><path d="M399 547L410 543L421 549L433 563L439 580L440 597L436 607L427 609L416 600L407 586L400 569L394 554L399 547" fill="none" stroke="rgb(153,76,0)" stroke-width="5" stroke-linecap="round" stroke-linejoin="round"/><path d="M399 547L410 543L421 549L433 563L439 580L440 597L436 607L427 609L416 600L407 586L400 569L394 554L399 547" fill="none" stroke="rgb(214,51,0)" stroke-width="2.6" stroke-linecap="round" stroke-linejoin="round"/><path d="M399 547L410 543L421 549L433 563L439 580L440 597L436 607L427 609L416 600L407 586L400 569L394 554Z" fill="rgb(51,20,0)"/><path d="M440 534L443 542L446 552L450 566" fill="none" stroke="rgb(214,51,0)" stroke-width="2.5" stroke-linecap="round" stroke-linejoin="round"/><path d="M412 456L428 434L440 424L456 428L472 444L486 450L480 466L464 474L460 490L440 502L420 494L412 482Z" fill="rgb(84,107,0)"/><path d="M424 450L438 436L444 458L452 474L440 482L428 470Z" fill="rgb(130,76,0)"/><path d="M428 478L446 477L448 486L438 492L426 488Z" fill="rgb(156,38,0)"/><path d="M452 430L486 446L480 464L460 458Z" fill="rgb(105,76,0)"/><path d="M412 490L432 501L450 512L477 521L505 515L534 526L536 576L528 576L410 500Z" fill="rgb(120,107,0)"/><path d="M425 505L450 520L477 530L505 526L534 536L536 576L528 576L418 506Z" fill="rgb(158,107,0)"/><path d="M464 496L473 496L473 518L466 518Z" fill="rgb(105,76,0)"/><path d="M486 501L505 500L502 530L490 530Z" fill="rgb(148,76,0)"/><path d="M512 512L534 520L534 540L515 535Z" fill="rgb(140,89,0)"/><path d="M538.6 436.4L554.3 430.7L574.3 428.6L581.4 440.7L582.9 456.4L587.1 467.9L581.4 476.4L574.3 482.1L581.4 490.7L580 503.6L572.9 506.4L561.4 510.7L557.1 523.6L554.3 535L540 537.9L538.6 515Z" fill="rgb(105,38,0)"/><path d="M561.4 456.4L574.3 455L577.1 469.3L568.6 479.3L561.4 472.1Z" fill="rgb(51,26,0)"/><path d="M538.6 450.7L545.7 447.1L552.9 450.7L554.3 462.1L552.9 472.1L548.6 477.9L542.9 475L540 465Z" fill="rgb(130,26,0)"/><path d="M569.3 443.6L577.1 439.3L581.4 447.9L582.1 457.9L575.7 453.6L570 450.7Z" fill="rgb(130,31,0)"/><path d="M560 491.4L562.1 493.6L554.3 506.4L548.6 515L547.1 509.3L552.9 497.9Z" fill="rgb(130,31,0)"/><path d="M542.9 520.7L554.3 520.7L554.3 529.3L542.9 529.3Z" fill="rgb(130,31,0)"/><path d="M617.1 466.4L624.3 462.1L638.6 459.3L639.3 477.9L630 480.7L622.9 477.9L618.6 472.1Z" fill="rgb(105,38,0)"/><path d="M624.3 469.3L632.9 465L638.6 467.9L638.6 475L628.6 476.4Z" fill="rgb(130,31,0)"/><path d="M595.7 490.7L610 483.6L618.6 486.4L640 482.1L640 542L587.1 542L592.9 515Z" fill="rgb(105,64,0)"/><path d="M604.3 495L618.6 486.4L625.7 495L639.3 486.4L639.3 542L591.4 542L595.7 515Z" fill="rgb(130,64,0)"/><path d="M610 496.4L618.6 490.7L625.7 499.3L638.6 490.7L639.3 506.4L631.4 515L625.7 529.3L618.6 540.7L597.1 540.7L595.7 523.6L597.1 509.3L605.7 502.1Z" fill="rgb(178,76,0)"/><path d="M641.4 486.4L650 490.7L658.6 486.4L671.4 483.6L662.9 495L671.4 502.1L665.7 513.6L654.3 506.4L641.4 497.9Z" fill="rgb(130,51,0)"/><path d="M641.4 487.9L648.6 492.1L655.7 499.3L658.6 506.4L651.4 503.6L641.4 495Z" fill="rgb(178,38,0)"/><path d="M641.4 503.6L651.4 506.4L654.3 523.6L641.4 526.4Z" fill="rgb(128,102,0)"/><path d="M538.6 490L582.9 490L582.9 507.1L568.6 518.6L557.1 527.1L554.3 537.1L538.6 540Z" fill="rgb(105,51,0)"/><path d="M545.7 498.6L560 492.9L555.7 510L548.6 518.6Z" fill="rgb(130,51,0)"/><path d="M591.4 518.6L600 498.6L614.3 495.7L637.1 492.9L638.6 550L537.1 550L537.1 544.3L571.4 544.3L588.6 532.9Z" fill="rgb(168,89,0)"/><path d="M554.3 507.1L590 504.3L591.4 521.4L585.7 537.1L557.1 542.9L555.7 527.1L568.6 518.6Z" fill="rgb(51,38,0)"/><path d="M620 518.6L638.6 515.7L638.6 537.1L622.9 534.3Z" fill="rgb(51,38,0)"/><path d="M537.1 553.6L640 553.6L640 617L528.6 617L524.3 598.6L522.9 578.6L534.3 575.7Z" fill="rgb(158,102,0)"/><path d="M568.6 557.1L578.6 555.7L584.3 570L577.1 575.7L570 567.1Z" fill="rgb(51,51,0)"/><path d="M571.4 590L585.7 588.6L591.4 604.3L584.3 617L575.7 617Z" fill="rgb(51,51,0)"/><path d="M611.4 557.1L622.9 564.3L628.6 581.4L622.9 590L614.3 578.6L605.7 564.3Z" fill="rgb(105,76,0)"/><path d="M590 575.7L602.9 581.4L617.1 598.6L628.6 612.9L622.9 617L605.7 617L597.1 601.4L588.6 587.1Z" fill="rgb(214,51,0)"/><path d="M374.3 575L407.1 575L420 596.4L440 605L448.6 622.1L474.3 622.1L474.3 635L440 622.1L421.4 622.1L397.1 617.9L394.3 600.7Z" fill="rgb(158,102,0)"/><path d="M448.6 575L521.4 575L521.4 600.7L531.4 622.1L517.1 635L474.3 622.1L451.4 622.1Z" fill="rgb(69,92,0)"/><path d="M440 540L455 545L480 565L500 580L520 600L450 600L441 575Z" fill="rgb(74,107,0)"/><path d="M445.7 600.7L462.9 597.9L468.6 612.1L451.4 616.4L442.9 610.7Z" fill="rgb(84,64,0)"/><path d="M474.3 622.1L517.1 610.7L531.4 622.1L524.3 639.3L521.4 655L525.7 660.7L517.1 666.4L474.3 669.3L472.9 655L477.1 639.3Z" fill="rgb(153,115,0)"/><path d="M497.1 647.9L508.6 646.4L510.7 655L502.9 660.7L495.7 656.4Z" fill="rgb(214,51,0)"/><path d="M495.7 616.4L511.4 622.1L517.1 636.4L508.6 640.7L497.1 626.4Z" fill="rgb(105,64,0)"/><path d="M421.4 622.1L440 622.1L460 629.3L474.3 637.9L478.6 655L474.3 669.3L468.6 669.3L460 646.4L445.7 637.9L428.6 629.3Z" fill="rgb(51,31,0)"/><path d="M524.3 607.9L545.7 603.6L574.3 615L602.9 635L610 660.7L602.9 689.3L582.9 692.1L571.4 702L518.6 667.9L525.7 660.7L521.4 655L524.3 639.3L533.6 623.6Z" fill="rgb(184,84,0)"/><path d="M544.3 617.9L560 616.4L564.3 629.3L557.1 636.4L544.3 633.6Z" fill="rgb(51,51,0)"/><path d="M568.6 640.7L582.9 639.3L585.7 652.1L572.9 656.4L567.1 649.3Z" fill="rgb(105,64,0)"/><path d="M540 659.3L551.4 659.3L551.4 669.3L541.4 669.3Z" fill="rgb(105,64,0)"/><path d="M522.9 575L574.3 575L574.3 610.7L545.7 603.6L524.3 607.9Z" fill="rgb(128,107,0)"/><path d="M538.6 575L640 575L640 583.6L588.6 583.6L571.4 589.3L545.7 583.6Z" fill="rgb(115,76,0)"/><path d="M577.1 586.4L602.9 576.4L640 583.6L640 632.1L624.3 622.1L602.9 612.1L582.9 600.7Z" fill="rgb(105,51,0)"/><path d="M584.3 585L602.9 578.6L621.4 587.9L640 603.6L640 625L624.3 617.1L607.1 607.1L590 596.4Z" fill="rgb(130,51,0)"/><path d="M588.6 583.6L602.9 580L618.6 589.3L632.9 600.7L640 607.1L640 620.7L624.3 613.6L610 605L594.3 595Z" fill="rgb(156,38,0)"/><path d="M591.4 584.3L602.9 581.4L617.1 590L631.4 601.4L639.3 608.6L639.3 617.1L624.3 611.4L610 602.9L595.7 593.6Z" fill="rgb(214,38,0)"/><path d="M571.4 592.1L582.9 589.3L602.9 603.6L624.3 617.9L639.3 632.1L639.3 649.3L624.3 642.1L602.9 625L582.9 610.7L574.3 600.7Z" fill="rgb(51,38,0)"/><path d="M582.9 643.6L602.9 635L640 649.3L640 702L571.4 702L582.9 692.1L602.9 689.3L610 660.7Z" fill="rgb(84,115,0)"/><path d="M614.3 649.3L617.1 660.7L625.7 675L631.4 689.3" fill="none" stroke="rgb(214,76,0)" stroke-width="3" stroke-linecap="round" stroke-linejoin="round"/><path d="M641.4 553.6L677.1 553.6L677.1 580.7L674.3 609.3L681.4 630.7L677.1 672L641.4 672Z" fill="rgb(107,115,0)"/><path d="M641.4 553.6L667.1 553.6L662.9 573.6L648.6 582.1L641.4 580.7Z" fill="rgb(158,102,0)"/><path d="M677.1 553.6L728.6 553.6L727.1 573.6L720 586.4L708.6 587.9L700 580.7L688.6 587.9L680 580.7Z" fill="rgb(51,31,0)"/><path d="M677.1 585L688.6 587.9L700 582.1L708.6 589.3L720 587.9L734.3 592.1L737.1 609.3L731.4 630.7L725.7 645L722.9 672L705.7 672L700 645L688.6 636.4L680 625L674.3 605Z" fill="rgb(189,76,0)"/><path d="M697.1 602.1L711.4 599.3L720 607.9L720 622.1L708.6 626.4L698.6 619.3Z" fill="rgb(156,51,0)"/><path d="M700 592.1L711.4 592.1L718.6 602.1L708.6 605L700 599.3Z" fill="rgb(130,76,0)"/><path d="M691.4 645L705.7 643.6L708.6 672L691.4 672Z" fill="rgb(51,64,0)"/><path d="M677.1 636.4L687.1 639.3L688.6 672L677.1 672Z" fill="rgb(51,64,0)"/><path d="M728.6 553.6L767.1 553.6L767.1 613.6L748.6 613.6L738.6 602.1L734.3 592.1L725.7 576.4Z" fill="rgb(140,89,0)"/><path d="M748.6 573.6L766.4 573.6L766.4 587.9L757.1 589.3L748.6 583.6Z" fill="rgb(214,51,0)"/><path d="M737.1 553.6L748.6 553.6L748.6 570.7L738.6 573.6Z" fill="rgb(130,51,0)"/><path d="M737.1 612.1L748.6 613.6L767.1 625L767.1 643.6L757.1 645L745.7 630.7L737.1 622.1Z" fill="rgb(130,38,0)"/><path d="M742.9 630.7L757.1 645L767.1 643.6L767.1 655L761.4 657.9L748.6 645L740 633.6Z" fill="rgb(105,31,0)"/><path d="M740 633.6L748.6 645L761.4 657.9L767.1 655L767.1 660.7L760 662.1L745.7 647.9L738.6 636.4Z" fill="rgb(84,26,0)"/><path d="M738.6 613.6L745.7 647.9L760 662.1L767.1 660.7L767.1 672L728.6 672L728.6 636.4Z" fill="rgb(51,31,0)"/><path d="M725.7 630.7L734.3 625L738.6 636.4L732.9 672L725.7 672Z" fill="rgb(128,102,0)"/><path d="M641.4 502.9L667.1 502.9L668.6 525.7L648.6 528.6L641.4 525.7Z" fill="rgb(128,102,0)"/><path d="M641.4 537.1L677.1 538.6L677.1 550.7L641.4 550.7Z" fill="rgb(153,102,0)"/><path d="M728.6 550.7L748.6 550.7L748.6 567L728.6 567Z" fill="rgb(105,76,0)"/><path d="M732.9 737.1L747.1 740L761.4 745.7L771.4 748.6L768.6 760L761.4 762.9L747.1 752.9L735.7 745.7Z" fill="rgb(140,128,0)"/><path d="M741.4 717.1L748.6 715.7L750 727.1L742.9 728.6Z" fill="rgb(105,76,0)"/><path d="M1395 440L1430 438L1430 452L1395 460Z" fill="rgb(105,26,0)"/><path d="M1370 447L1398 446L1396 462L1370 462Z" fill="rgb(130,26,0)"/><path d="M399 626L425 626L425 636L399 636Z" fill="rgb(153,128,0)"/><path d="M417 648L424 648L424 655L417 655Z" fill="rgb(105,26,0)"/><path d="M1185 855L1252 855L1252 884L1185 884Z" fill="rgb(214,38,0)"/><path d="M1216 846L1228 842L1236 836L1242 830L1247 820L1260 820L1250 850L1240 864L1225 866L1215 860Z" fill="rgb(105,38,0)"/><path d="M1226 858L1234 848L1240 840L1246 828L1260 826L1252 850L1242 864L1230 866Z" fill="rgb(130,38,0)"/><path d="M1240 862L1246 846L1250 832L1260 830L1252 852L1244 864Z" fill="rgb(156,38,0)"/><path d="M909 350L920 353L930 363L938 375L940 381L907 381Z" fill="rgb(51,20,0)"/><path d="M340 287L352 290L358 296L354 306L346 309L340 300Z" fill="rgb(105,51,0)"/><path d="M363 264L372 264L370 276L364 286L360 283Z" fill="rgb(105,51,0)"/><path d="M536 553L600 553L640 553L640 566L600 572L560 575L536 572Z" fill="rgb(120,89,0)"/><path d="M750 423L765 421L785 424L790 432L775 432L760 428Z" fill="rgb(105,31,0)"/><path d="M786 348L830 352L832 378L800 385L786 378Z" fill="rgb(69,76,0)"/><path d="M641 553L662 553L664 570L655 580L641 578Z" fill="rgb(178,76,0)"/><path d="M536.5 554L638.7 554L638.7 620.3L622.6 616.7L595.7 604.2L574.2 586.2L559.8 580.9L536.5 573.7Z" fill="rgb(178,76,0)"/><path d="M524 575.5L559.8 571.9L565.2 598.8L559.8 623.9L532.9 625.7L525.8 604.2Z" fill="rgb(107,128,0)"/><path d="M604.7 557.6L631.6 555.8L638.7 580.9L633.3 598.8L622.6 589.8L611.8 577.3Z" fill="rgb(105,76,0)"/><path d="M608.2 562.9L622.6 561.1L629.8 580.9L622.6 584.4L613.6 575.5Z" fill="rgb(130,64,0)"/><path d="M568.8 555.8L579.6 557.6L577.8 575.5L570.6 571.9Z" fill="rgb(51,51,0)"/><path d="M574.2 585.3L595.7 605.1L622.6 619.4L638.7 623.9" fill="none" stroke="rgb(130,51,0)" stroke-width="4" stroke-linecap="round" stroke-linejoin="round"/><path d="M586.7 579.1L599.3 575.5L615.4 589.8L629.8 604.2L638.7 613.1L638.7 622.1L622.6 616.7L604.7 604.2L590.3 591.6Z" fill="rgb(214,38,0)"/><path d="M570.6 585.3L579.6 587.1L592.1 599.7L608.2 614L624.4 623L638.7 626.6L638.7 645.4L629.8 641.8L622.6 631.1L604.7 623.9L590.3 616.7L577.8 604.2L570.6 595.2Z" fill="rgb(51,31,0)"/><path d="M532.9 620.3L568.8 613.1L590.3 620.3L608.2 629.3L622.6 638.2L615.4 652.6L601.1 659.8L597.5 674.1L583.1 681.3L574.2 688.4L520.4 668.7L525.8 652.6L522.2 638.2Z" fill="rgb(189,76,0)"/><path d="M524 645.4L568.8 645.4L568.8 670.5L550.9 674.1L524 666.9Z" fill="rgb(153,89,0)"/><path d="M543.7 622.1L559.8 620.3L563.4 632.9L550.9 638.2L541.9 631.1Z" fill="rgb(51,38,0)"/><path d="M570.6 638.2L583.1 636.4L588.5 645.4L583.1 654.4L572.4 654.4L567 647.2Z" fill="rgb(130,51,0)"/><path d="M574.2 642.7L581.3 641.8L584 646.3L580.4 650.8L575.1 649.9Z" fill="rgb(105,51,0)"/><path d="M540.1 658L550.9 657.1L551.8 666.9L541.9 668.7Z" fill="rgb(105,51,0)"/><path d="M583.1 645.4L601.1 659.8L622.6 638.2L638.7 645.4L638.7 699.2L595.7 699.2L583.1 684.9Z" fill="rgb(69,82,0)"/><path d="M608.2 656.2L615.4 674.1L622.6 688.4" fill="none" stroke="rgb(214,51,0)" stroke-width="2.5" stroke-linecap="round" stroke-linejoin="round"/><path d="M626.2 652.6L631.6 670.5L635.1 688.4" fill="none" stroke="rgb(214,51,0)" stroke-width="2.2" stroke-linecap="round" stroke-linejoin="round"/><path d="M643.2 554L667.4 554L669.2 571.9L658.4 580.9L643.2 579.1Z" fill="rgb(184,64,0)"/><path d="M643.2 579.1L658.4 580.9L669.2 571.9L676.4 589.8L672.8 616.7L676.4 634.7L667.4 645.4L643.2 645.4Z" fill="rgb(105,87,0)"/><path d="M676.4 554L730.2 554L728.4 580.9L712.2 589.8L694.3 586.2L680 589.8Z" fill="rgb(51,26,0)"/><path d="M739.1 554L753.5 554L751.7 566.5L740.9 564.7Z" fill="rgb(51,26,0)"/><path d="M730.2 555.8L766 555.8L766 598.8L739.1 604.2L728.4 582.7Z" fill="rgb(153,76,0)"/><path d="M744.5 577.3L766 575.5L766 598.8L748.1 602.4L737.3 591.6Z" fill="rgb(214,51,0)"/><path d="M676.4 589.8L694.3 586.2L712.2 591.6L728.4 582.7L739.1 604.2L735.5 620.3L724.8 634.7L726.6 652.6L721.2 670.5L710.4 670.5L705.1 645.4L687.1 638.2L676.4 620.3L672.8 604.2Z" fill="rgb(199,64,0)"/><path d="M697.9 604.2L715.8 604.2L717.6 620.3L703.3 625.7L696.1 616.7Z" fill="rgb(156,38,0)"/><path d="M701.5 595.2L712.2 598.8L706.9 606Z" fill="rgb(130,51,0)"/><path d="M643.2 645.4L667.4 645.4L676.4 634.7L687.1 638.2L694.3 652.6L690.7 670.5L676.4 670.5L658.4 681.3L643.2 681.3Z" fill="rgb(115,128,0)"/><path d="M687.1 638.2L705.1 645.4L710.4 670.5L721.2 670.5L726.6 681.3L658.4 681.3L676.4 670.5L690.7 670.5L694.3 652.6Z" fill="rgb(51,64,0)"/><path d="M697.9 645.4L701.5 661.6L708.7 674.1" fill="none" stroke="rgb(214,51,0)" stroke-width="2.5" stroke-linecap="round" stroke-linejoin="round"/><path d="M717.6 638.2L719.4 656.2L730.2 677.7" fill="none" stroke="rgb(214,51,0)" stroke-width="2.5" stroke-linecap="round" stroke-linejoin="round"/><path d="M739.1 616.7L766 614.9L766 645.4L753.5 641.8L740.9 629.3Z" fill="rgb(130,38,0)"/><path d="M735.5 604.2L766 598.8L766 615.8L739.1 617.6Z" fill="rgb(156,51,0)"/><path d="M739.1 615.8L753.5 642.7L766 653.5L766 681.3L726.6 681.3L728.4 645.4Z" fill="rgb(51,26,0)"/><path d="M740 615.8L754.4 641.8L766.9 653.5" fill="none" stroke="rgb(105,26,0)" stroke-width="5" stroke-linecap="round" stroke-linejoin="round"/><path d="M738.8 616.7L752.6 643.3L765.7 655.3" fill="none" stroke="rgb(84,20,0)" stroke-width="3" stroke-linecap="round" stroke-linejoin="round"/><path d="M537 547L566 548L593 544L620 548L640 549" fill="none" stroke="rgb(189,76,0)" stroke-width="4" stroke-linecap="round" stroke-linejoin="round"/><path d="M1216 724L1226 724L1233 754L1222 756L1215 740Z" fill="rgb(156,38,0)"/><path d="M1220 726L1227 726L1233 752L1226 753L1220 740Z" fill="rgb(130,38,0)"/></g></g><path d="M1033 729L1040 726L1047 728L1049 733L1044 736L1036 735Z" fill="#fff" stroke="#000" stroke-width="3" stroke-linejoin="round"/><g fill="none" stroke="#000" stroke-width="3.5" stroke-linejoin="round" stroke-linecap="round"><path d="M352.2 235.5L933 235.5L933 226L942 226L944 240L964 247L976 245L988 250L994 255L1008 257L1020 256L1028 258L1054 261.6L1032 270L1010 286L994 297L1004 294L1022 289L1026 297L1034 296L1040 297L1046 292.5L1057 291L1066 285L1074 279L1080 275.5L1088 275L1091 277L1084 282L1078 287.5L1074.5 294L1080 290L1090 291.5L1094 295L1098 300L1105 300.5L1112 303.5L1120 298.5L1125 296.5L1140 295.5L1149 294L1147 301L1155 302L1163 302.5L1164 308.5L1171 315L1165 315L1155 314L1152 317L1146 313L1138 311.5L1130 314L1122 317L1118 321L1114 318L1105 318L1100 326L1096 334L1091 339L1087 347L1084 353L1090 348L1097 340L1103 333L1107 330L1109 332L1104 340L1099 349L1096 350L1094 360L1091 370L1088 380L1086.5 390L1089 400L1088 410L1091 418L1094.5 426L1100 429L1108 426.5L1114 422L1119 414L1122.5 406L1122 395L1119 387L1116 378L1117 370L1116 365L1120 358L1121.5 350L1120 353L1122 347L1128 342L1134 338L1140 334L1146 330L1147 324L1151 320L1160 323L1170 328L1180 331L1184 338L1180 342L1184 349L1183 357L1178 361L1174 367L1169.5 371L1170 376L1175 378L1181 372L1185 367L1191 365L1197 368L1199.5 376L1201 385L1202 393L1200.5 400L1199 405L1194 403L1192 409L1187 414L1184 421L1182 425L1190 432L1193 435L1200 435L1210 433L1220 429L1230 424L1240 420L1250 416L1258 413L1268 405L1278 398L1275 398L1273 390L1276 385L1292 383L1306 385L1320 384L1332 378L1334 369L1329 364L1338 358L1348 348L1360 340.7L1431 340.7L1434 334L1446 333L1449 328L1458 320L1458 310L1464 296L1481 275L1484 280L1500 278L1511 286L1512 324L1518 326L1519 336L1526 338L1527 346L1516 352L1500 358L1489 354L1484 360L1478 368L1464 375L1458 378L1452 388L1446 398L1447 405L1452 408L1450 414L1447 420L1452 427L1458 430L1466 424L1462 418L1466 416L1469 424L1464 434L1452 436L1446 432L1443 438L1436 440L1430 442L1420 444L1400 447L1383 448L1380 448L1379 458L1380 472L1376 482L1368 492L1360 500L1352 494L1348 484L1345 481L1347 490L1352 498L1358 510L1357 516L1352 530L1346 537L1342 545L1339 550L1338 553L1340 562L1346 572L1349 580L1349 596L1332 608L1326 615L1312 616L1300 626L1296 633L1284 634L1276 642L1268 654L1252 666L1240 674L1231 683L1228 696L1222 708L1221 718L1223 714L1226 734L1232 754L1238 774L1246 794L1251 810L1253 826L1251 846L1246 858L1238 864L1229 863L1224 852L1216 844L1212 830L1206 822L1202 812L1198 800L1194 792L1196 780L1198 768L1192 758L1184 750L1176 740L1168 734L1160 736L1152 742L1140 744L1136 738L1128 730L1116 727L1100 728L1084 729L1086 716L1082 716L1080 727L1060 728L1052 731L1058 730L1052 736L1048 744L1058 752L1062 759L1054 760L1044 754L1032 759L1020 757L1012 749L1002 740L994 746L980 742L962 741L952 744L940 744L938 752L924 764L912 770L902 774L892 784L886 794L884 802L887 814L889 826L892 841L886 844L868 839L852 830L844 814L840 802L832 790L822 774L816 762L808 752L798 743L784 741L776 746L772 754L766 763L758 761L744 752L734 740L730 726L720 714L712 710L700 697L692.3 686L692.3 689.9L658.8 689.9L658.8 701.8L641 701.8L598 702.5L520 669L470 669L466 654L458 644L446 637L442 630L432 629L424 624L412 619L399 616L398 606L394 598L386 588L376 576L374 576L369 566L371 558L366 554L360 542L356 536L358 528L350 523L343 512L333 500L331 484L324 470L317 460L322 448L325 434L320 419.6L319 410L315 398L320 380L324 360L327 332L326.6 320L325.6 308L324.5 301.7L324.5 288L322 280L318 267.6L313 260L312 250.5L321 254L332 257L347 259L352 261L365 261L363 257L361 250L360 242L353 240Z"/><path d="M1382 450L1386 449L1400 445L1412 442L1417 441L1421 443L1425 445L1415 450L1400 456L1388 459L1378 460L1374 458L1378 453Z"/><path d="M472.5 235.8L472.5 305L475 314L484 320L483 328L476 344L469 358L474 361L473.6 420.4"/><path d="M325.6 308L332 306L340.5 307L347 310L350 315.5L352 321L360 326L384 324L400 322L420 316L440 314L475 314"/><path d="M493.3 235.8L493.3 262L500 274L512 286L520 295L529 298L528 310L525 326L530 329L537 322L543 332L549 342L556 350L560 357L568 354L588 351L592 347L598.8 356"/><path d="M320 420.4L598.8 420.4"/><path d="M598.8 341.3L598.8 446.8"/><path d="M598.8 341.3L746.5 341.3"/><path d="M746.5 235.8L746.5 446.8"/><path d="M598.8 446.8L788.7 446.8"/><path d="M788.7 446.8L788.7 552.2"/><path d="M788.7 473.1L930 473.1"/><path d="M641 446.8L641 701.8"/><path d="M535.8 552.2L945.5 552.2"/><path d="M535.8 420.4L535.8 572L531 575L527 578L524 590L523.3 603.7"/><path d="M410 420.4L410 499.5L523.3 603.7"/><path d="M523.3 603.7L528 612L533 624L526 634L521 646L522 656L526 660L520 668"/><path d="M768.7 552.2L768.7 565.4"/><path d="M767.9 565.4L767.9 684.1"/><path d="M767.9 684.1L692.3 684.1L692.3 689.9"/><path d="M768.7 565.4L832 565.4L832 615.3"/><path d="M832 615.3L840 619L850 624L860 628L872 632L882 635L892 637L900 639L908 638L920 633L932 631L940 636L947 641L957 641"/><path d="M945.5 496L945.5 565.4L947 600L947.5 641"/><path d="M957 641L957.5 657.7L958 685L963 696L967 708L965 724L962 734L962 741"/><path d="M957.5 657.7L1017 657.7"/><path d="M945.5 565.4L1038 565.4L1040 572L1036 577L1050 577"/><path d="M746.5 316.5L903 316.5"/><path d="M746.5 394L863 394L873 399.5L886 397.5L895 400L902 403L909 413L911 419L912 424L918 438L920 452L924 462L930 472L938 477L935 484L942 492L945.5 496"/><path d="M891 235.8L893 260L898 280L901 300L904 314L903 320L897 324L904 330L906.5 336L906.5 380.5L903 382L907 389L905 395L902 403"/><path d="M906.5 380.5L1016 380.5"/><path d="M921 456.6L1008 456.6L1013 458"/><path d="M994 297L993 298L992 312L982 320L981 326L985 332L984 344L996 356L1008 366L1016 378L1020 390L1024 398L1032 408L1038 418L1035 428L1022 435L1019 442L1020 450L1013 457L1010 466L1014 478L1024 490L1030 500L1038 504L1035 516L1044 526L1052 536L1056 546L1060 556L1058 564L1054 572L1050 577L1044 586L1040 596L1036 606L1032 616L1026 624L1020 634L1016 642L1018 650L1017 656L1020 664L1022 674L1017 680L1014 690L1010 700L1008 710.2"/><path d="M1008 710.2L1048 710.2L1048 716L1050 724L1052 731"/><path d="M1028 407L1088 407"/><path d="M1038 301L1040 304.5L1052 309L1065 313L1075 314.5L1082 318L1088 323L1087 330L1091 334L1091 339"/><path d="M1094.5 426L1094.5 496L1095 506L1088 518L1082 530"/><path d="M1056 546L1064 547L1074 546L1080 538L1082 530L1090 528L1100 530L1108 526L1118 521L1128 518L1136 511L1140 507L1146 506L1151 498L1154 496L1160 498L1170 504L1180 506L1190 507L1198 516L1206 512L1208 502L1214 498L1220 490L1232 484L1239 476L1238 464L1241 456"/><path d="M1152 427L1152 498"/><path d="M1114 425L1152 427L1182 425.5"/><path d="M1242 420L1242 480"/><path d="M1242 480L1343 480"/><path d="M1343 480L1343 514L1354 514"/><path d="M1258 413L1258 420.4L1350 420.4L1356 427L1360 434L1363.5 439"/><path d="M1363.5 439L1383 447"/><path d="M1363.5 439L1355 448L1353 456L1358 462L1362 469L1364 472L1356 474L1348 478L1346.5 484L1350 491L1358 495L1361 500"/><path d="M1058 565L1062 562.5L1082 562.5L1187 562.5L1215 563L1338 563.6"/><path d="M1198 516L1200 526L1208 536L1214 543"/><path d="M1214 543L1187 562.5"/><path d="M1214 543L1224 542L1230 544L1240 540L1246 535L1249 529L1257 521L1260 512L1262 514L1268 512L1277 503L1284 496L1286 490L1299 494"/><path d="M1263.5 480L1263.5 494L1270 489L1276 484L1284 483L1290 485L1294 491L1299 494L1302 490L1306 494L1315 499L1317 504L1310 512L1311 517L1317 515L1324 521L1330 527L1334 534"/><path d="M1339 521L1353 522"/><path d="M1036 605L1182 605.5"/><path d="M1081 605L1079 680L1075 724"/><path d="M1135 605L1140 626L1144 656L1148 674L1145 684L1146 704L1149 717"/><path d="M1092 710.2L1146 710.2"/><path d="M1092 710.2L1093 716L1096 722"/><path d="M1149 717L1208 721.5L1210 726L1212 718L1222 717"/><path d="M1182 611L1190 619L1200 632L1210 645L1220 656L1226 668L1230 682"/><path d="M1182 611L1190 604L1202 600L1230 601L1236 608L1260 609L1284 633"/><path d="M1161 605L1164 600L1176 590L1188 584L1200 578L1212 568L1215 563"/><path d="M1392 341.3L1393 360L1391 368L1394 380L1395 400.5L1390 418.5L1388.5 442L1384 445"/><path d="M1431 340L1428 352L1420 358L1415 372L1412 386L1410 400.5"/><path d="M1439 333L1442 340L1442 380L1446 389L1447 395"/><path d="M1395 400.5L1436 400.5L1440 397.5L1445 395.5"/><path d="M1390 418.8L1436 418.8L1436.5 425L1440 428"/><path d="M1427.5 418.8L1427.5 437"/><path d="M1335 484L1324 492L1326 505L1323 514L1330 521L1333 530L1336 540L1338 550" stroke-width="4.6"/><path d="M1335 485L1334 495L1335 505L1338 515L1340 521L1336 529L1334 539L1336 549" stroke-width="4.6"/><path d="M1330 500L1329 512L1332 522L1331 534L1334 545" stroke-width="4.6"/><path d="M1317 527L1324 535L1330 543" stroke-width="4.6"/><path d="M1320 539L1330 550" stroke-width="4.6"/><path d="M1316 545L1326 548L1334 552" stroke-width="4.6"/><path d="M1338 566L1346 569L1341 573" stroke-width="4.6"/><path d="M1333 580L1343 582L1348 578" stroke-width="4.6"/><path d="M1330 590L1340 592L1346 588" stroke-width="4.6"/><path d="M1322 604L1332 600L1338 603" stroke-width="4.6"/></g><path d="M352 258L365 259L366 266L363 276L361 283L352 289L346 286L343.7 278L346 270L350 264Z" fill="#000" stroke="#000" stroke-width="2" stroke-linejoin="round"/><path d="M352 236L358 240L362 244L364 258L356 258L357 250L354 244Z" fill="#000" stroke="#000" stroke-width="2" stroke-linejoin="round"/><path d="M344 243L348 241L352 243L353 248L349 251L344 249Z" fill="#000" stroke="#000" stroke-width="2" stroke-linejoin="round"/><path d="M325 288L329 289L330 296L327 301L324.5 300Z" fill="#000" stroke="#000" stroke-width="2" stroke-linejoin="round"/><path d="M1449 436.5L1452 435.5L1454.5 437L1453 439L1450 439Z" fill="#000" stroke="#000" stroke-width="2" stroke-linejoin="round"/><path d="M1459 437L1462 436.5L1465 439L1463 441L1460 440Z" fill="#000" stroke="#000" stroke-width="2" stroke-linejoin="round"/><path d="M357 521L362 520L366 525L368 533L370 541L366 542L362 535L358 528Z" fill="#000" stroke="#000" stroke-width="2" stroke-linejoin="round"/><path d="M1192 788L1198 787L1204 790L1203 797L1197 798L1193 794Z" fill="#000" stroke="#000" stroke-width="2" stroke-linejoin="round"/><path d="M1203 815L1208 814L1211 819L1208 823L1204 821Z" fill="#000" stroke="#000" stroke-width="2" stroke-linejoin="round"/><path d="M1227 859L1232 858L1235 862L1231 866L1227 864Z" fill="#000" stroke="#000" stroke-width="2" stroke-linejoin="round"/><path d="M936 744L940 743L941 750L937 752Z" fill="#000" stroke="#000" stroke-width="2" stroke-linejoin="round"/><path d="M1081 714L1085 713L1086 722L1083 727L1080 724Z" fill="#000" stroke="#000" stroke-width="2" stroke-linejoin="round"/><path d="M1127 342L1131 340L1135 345L1133 352L1129 355L1126 350Z" fill="#000" stroke="#000" stroke-width="2" stroke-linejoin="round"/><path d="M1105 316L1112 316L1116 320L1112 323L1106 321Z" fill="#000" stroke="#000" stroke-width="2" stroke-linejoin="round"/></svg>
<div class="lgt">Relative pop. size</div>
<div class="sw" style="top:417.00px;background:#4d4d4d"></div><div class="lt" style="top:417.40px">excl.-severe</div><div class="sw" style="top:442.47px;background:#b3b3b3"></div><div class="lt" style="top:442.87px">excl.-moderate</div><div class="sw" style="top:467.94px;background:#1874cd"></div><div class="lt" style="top:468.34px">0-10</div><div class="sw" style="top:493.41px;background:#4a8f9e"></div><div class="lt" style="top:493.81px">10-20</div><div class="sw" style="top:518.88px;background:#7db075"></div><div class="lt" style="top:519.28px">20-30</div><div class="sw" style="top:544.35px;background:#b0d13d"></div><div class="lt" style="top:544.75px">30-40</div><div class="sw" style="top:569.82px;background:#e3ed17"></div><div class="lt" style="top:570.22px">40-50</div><div class="sw" style="top:595.29px;background:#fae100"></div><div class="lt" style="top:595.69px">50-60</div><div class="sw" style="top:620.76px;background:#f0a800"></div><div class="lt" style="top:621.16px">60-70</div><div class="sw" style="top:646.23px;background:#e37400"></div><div class="lt" style="top:646.63px">70-80</div><div class="sw" style="top:671.70px;background:#db3b00"></div><div class="lt" style="top:672.10px">80-90</div><div class="sw" style="top:697.17px;background:#cc0000"></div><div class="lt" style="top:697.57px">90-100</div>
</body></html>
